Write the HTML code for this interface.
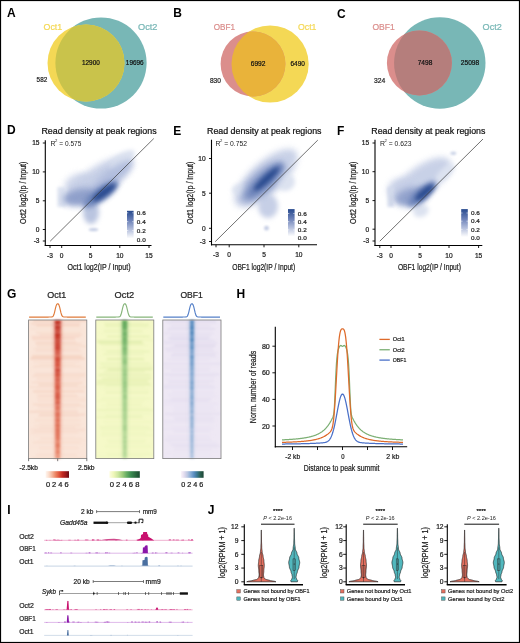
<!DOCTYPE html>
<html><head><meta charset="utf-8"><style>
html,body{margin:0;padding:0;background:#fff;}
svg{display:block;font-family:"Liberation Sans", sans-serif;will-change:transform;}
</style></head><body>
<svg width="520" height="643" viewBox="0 0 520 643">
<rect x="0" y="0" width="520" height="643" fill="#fff"/>
<text x="7.00" y="17.10" font-size="12" text-anchor="start" fill="#000" font-weight="bold">A</text>
<text x="173.20" y="17.30" font-size="12" text-anchor="start" fill="#000" font-weight="bold">B</text>
<text x="337.00" y="17.50" font-size="12" text-anchor="start" fill="#000" font-weight="bold">C</text>
<text x="7.00" y="134.30" font-size="12" text-anchor="start" fill="#000" font-weight="bold">D</text>
<text x="173.20" y="134.60" font-size="12" text-anchor="start" fill="#000" font-weight="bold">E</text>
<text x="337.00" y="134.60" font-size="12" text-anchor="start" fill="#000" font-weight="bold">F</text>
<text x="7.00" y="298.10" font-size="12" text-anchor="start" fill="#000" font-weight="bold">G</text>
<text x="236.50" y="298.30" font-size="12" text-anchor="start" fill="#000" font-weight="bold">H</text>
<text x="7.20" y="513.80" font-size="12" text-anchor="start" fill="#000" font-weight="bold">I</text>
<text x="207.80" y="513.80" font-size="12" text-anchor="start" fill="#000" font-weight="bold">J</text>
<clipPath id="clip10"><circle cx="101" cy="63" r="45.6"/></clipPath>
<circle cx="101" cy="63" r="45.6" fill="#78B7B6"/>
<circle cx="86" cy="63" r="38.5" fill="#F4D855"/>
<circle cx="86" cy="63" r="38.5" fill="#C9C34B" clip-path="url(#clip10)"/>
<text x="43.50" y="29.80" font-size="9.72" text-anchor="start" fill="#F4D855" stroke="#F4D855" stroke-width="0.22" textLength="18.70" lengthAdjust="spacingAndGlyphs">Oct1</text>
<text x="138.00" y="29.80" font-size="9.72" text-anchor="start" fill="#78B7B6" stroke="#78B7B6" stroke-width="0.22" textLength="19.50" lengthAdjust="spacingAndGlyphs">Oct2</text>
<text x="82.00" y="65.10" font-size="7.04" text-anchor="start" fill="#111" stroke="#111" stroke-width="0.22" textLength="17.80" lengthAdjust="spacingAndGlyphs">12900</text>
<text x="125.80" y="65.10" font-size="7.04" text-anchor="start" fill="#111" stroke="#111" stroke-width="0.22" textLength="17.90" lengthAdjust="spacingAndGlyphs">19696</text>
<text x="36.60" y="82.40" font-size="7.04" text-anchor="start" fill="#222" stroke="#222" stroke-width="0.22" textLength="10.60" lengthAdjust="spacingAndGlyphs">582</text>
<clipPath id="clip19"><circle cx="270.1" cy="64" r="38.6"/></clipPath>
<circle cx="270.1" cy="64" r="38.6" fill="#F4D855"/>
<circle cx="253" cy="64" r="32.4" fill="#DB8E8C"/>
<circle cx="253" cy="64" r="32.4" fill="#E9B33A" clip-path="url(#clip19)"/>
<text x="213.80" y="29.80" font-size="9.72" text-anchor="start" fill="#DB8E8C" stroke="#DB8E8C" stroke-width="0.22" textLength="21.20" lengthAdjust="spacingAndGlyphs">OBF1</text>
<text x="298.00" y="29.80" font-size="9.72" text-anchor="start" fill="#F4D855" stroke="#F4D855" stroke-width="0.22" textLength="18.50" lengthAdjust="spacingAndGlyphs">Oct1</text>
<text x="250.70" y="66.40" font-size="7.32" text-anchor="start" fill="#111" stroke="#111" stroke-width="0.22" textLength="14.80" lengthAdjust="spacingAndGlyphs">6992</text>
<text x="290.50" y="66.40" font-size="7.32" text-anchor="start" fill="#111" stroke="#111" stroke-width="0.22" textLength="14.40" lengthAdjust="spacingAndGlyphs">6490</text>
<text x="209.90" y="83.30" font-size="7.32" text-anchor="start" fill="#222" stroke="#222" stroke-width="0.22" textLength="11.00" lengthAdjust="spacingAndGlyphs">830</text>
<clipPath id="clip28"><circle cx="439.8" cy="63" r="45.7"/></clipPath>
<circle cx="439.8" cy="63" r="45.7" fill="#78B7B6"/>
<circle cx="419.4" cy="63" r="32.5" fill="#DB8E8C"/>
<circle cx="419.4" cy="63" r="32.5" fill="#B57E7C" clip-path="url(#clip28)"/>
<text x="372.40" y="29.80" font-size="9.72" text-anchor="start" fill="#DB8E8C" stroke="#DB8E8C" stroke-width="0.22" textLength="22.30" lengthAdjust="spacingAndGlyphs">OBF1</text>
<text x="482.60" y="29.80" font-size="9.72" text-anchor="start" fill="#78B7B6" stroke="#78B7B6" stroke-width="0.22" textLength="19.30" lengthAdjust="spacingAndGlyphs">Oct2</text>
<text x="417.70" y="65.00" font-size="7.18" text-anchor="start" fill="#111" stroke="#111" stroke-width="0.22" textLength="14.60" lengthAdjust="spacingAndGlyphs">7498</text>
<text x="460.80" y="65.00" font-size="7.18" text-anchor="start" fill="#111" stroke="#111" stroke-width="0.22" textLength="18.40" lengthAdjust="spacingAndGlyphs">25098</text>
<text x="374.00" y="82.70" font-size="7.18" text-anchor="start" fill="#222" stroke="#222" stroke-width="0.22" textLength="11.30" lengthAdjust="spacingAndGlyphs">324</text>
<filter id="bl0_8" x="-50%" y="-50%" width="200%" height="200%"><feGaussianBlur stdDeviation="0.8"/></filter>
<filter id="bl1" x="-50%" y="-50%" width="200%" height="200%"><feGaussianBlur stdDeviation="1"/></filter>
<filter id="bl1_5" x="-50%" y="-50%" width="200%" height="200%"><feGaussianBlur stdDeviation="1.5"/></filter>
<filter id="bl2" x="-50%" y="-50%" width="200%" height="200%"><feGaussianBlur stdDeviation="2"/></filter>
<filter id="bl2_5" x="-50%" y="-50%" width="200%" height="200%"><feGaussianBlur stdDeviation="2.5"/></filter>
<filter id="bl3" x="-50%" y="-50%" width="200%" height="200%"><feGaussianBlur stdDeviation="3"/></filter>
<filter id="bl4" x="-50%" y="-50%" width="200%" height="200%"><feGaussianBlur stdDeviation="4"/></filter>
<linearGradient id="cbar" x1="0" y1="1" x2="0" y2="0"><stop offset="0" stop-color="#FFFFFF"/><stop offset="0.3" stop-color="#BAC4DF"/><stop offset="0.65" stop-color="#6C81B8"/><stop offset="1" stop-color="#274A8E"/></linearGradient>
<ellipse cx="98" cy="180" rx="40" ry="13" transform="rotate(-33 98 180)" fill="#C6CFE6" opacity="0.95" filter="url(#bl3)"/>
<ellipse cx="78" cy="183" rx="14" ry="9" transform="rotate(-20 78 183)" fill="#C6CFE6" opacity="0.8" filter="url(#bl3)"/>
<ellipse cx="122" cy="160" rx="15" ry="6" transform="rotate(-35 122 160)" fill="#DCE2F0" opacity="1" filter="url(#bl2)"/>
<rect x="57.5" y="187" width="8.5" height="20" fill="#DCE2F0" opacity="1" filter="url(#bl1_5)"/>
<ellipse cx="91" cy="212" rx="8" ry="12" transform="rotate(0 91 212)" fill="#BAC5E0" opacity="1" filter="url(#bl2_5)"/>
<ellipse cx="93.5" cy="229.6" rx="4.8" ry="1.7" transform="rotate(0 93.5 229.6)" fill="#C5CDE4" opacity="1" filter="url(#bl1)"/>
<ellipse cx="82" cy="197" rx="19" ry="8.5" transform="rotate(-8 82 197)" fill="#8C9DC9" opacity="0.95" filter="url(#bl3)"/>
<ellipse cx="112" cy="177" rx="26" ry="8" transform="rotate(-38 112 177)" fill="#AAB7DA" opacity="0.75" filter="url(#bl3)"/>
<ellipse cx="101" cy="194" rx="21" ry="7" transform="rotate(-35 101 194)" fill="#6D84BA" opacity="0.9" filter="url(#bl2_5)"/>
<ellipse cx="104" cy="192.5" rx="14" ry="4" transform="rotate(-36 104 192.5)" fill="#2C4C90" opacity="1" filter="url(#bl2)"/>
<line x1="50.20" y1="241.20" x2="153.80" y2="138.50" stroke="#333" stroke-width="0.7"/>
<line x1="45.30" y1="140.20" x2="45.30" y2="246.10" stroke="#000" stroke-width="1.1"/>
<line x1="44.80" y1="245.50" x2="151.50" y2="245.50" stroke="#000" stroke-width="1.1"/>
<line x1="42.80" y1="143.00" x2="45.30" y2="143.00" stroke="#000" stroke-width="0.9"/>
<text x="39.50" y="145.40" font-size="6.6" text-anchor="end" fill="#222" stroke="#222" stroke-width="0.22">15</text>
<line x1="42.80" y1="171.90" x2="45.30" y2="171.90" stroke="#000" stroke-width="0.9"/>
<text x="39.50" y="174.30" font-size="6.6" text-anchor="end" fill="#222" stroke="#222" stroke-width="0.22">10</text>
<line x1="42.80" y1="200.80" x2="45.30" y2="200.80" stroke="#000" stroke-width="0.9"/>
<text x="39.50" y="203.20" font-size="6.6" text-anchor="end" fill="#222" stroke="#222" stroke-width="0.22">5</text>
<line x1="42.80" y1="229.50" x2="45.30" y2="229.50" stroke="#000" stroke-width="0.9"/>
<text x="39.50" y="231.90" font-size="6.6" text-anchor="end" fill="#222" stroke="#222" stroke-width="0.22">0</text>
<line x1="42.80" y1="241.00" x2="45.30" y2="241.00" stroke="#000" stroke-width="0.9"/>
<text x="39.50" y="243.40" font-size="6.6" text-anchor="end" fill="#222" stroke="#222" stroke-width="0.22">-3</text>
<line x1="50.00" y1="245.50" x2="50.00" y2="248.00" stroke="#000" stroke-width="0.9"/>
<text x="50.00" y="257.50" font-size="6.6" text-anchor="middle" fill="#222" stroke="#222" stroke-width="0.22">-3</text>
<line x1="61.70" y1="245.50" x2="61.70" y2="248.00" stroke="#000" stroke-width="0.9"/>
<text x="61.70" y="257.50" font-size="6.6" text-anchor="middle" fill="#222" stroke="#222" stroke-width="0.22">0</text>
<line x1="90.60" y1="245.50" x2="90.60" y2="248.00" stroke="#000" stroke-width="0.9"/>
<text x="90.60" y="257.50" font-size="6.6" text-anchor="middle" fill="#222" stroke="#222" stroke-width="0.22">5</text>
<line x1="119.80" y1="245.50" x2="119.80" y2="248.00" stroke="#000" stroke-width="0.9"/>
<text x="119.80" y="257.50" font-size="6.6" text-anchor="middle" fill="#222" stroke="#222" stroke-width="0.22">10</text>
<line x1="149.00" y1="245.50" x2="149.00" y2="248.00" stroke="#000" stroke-width="0.9"/>
<text x="149.00" y="257.50" font-size="6.6" text-anchor="middle" fill="#222" stroke="#222" stroke-width="0.22">15</text>
<text x="41.40" y="134.40" font-size="8.7" text-anchor="start" fill="#111" stroke="#111" stroke-width="0.22" textLength="115.20" lengthAdjust="spacingAndGlyphs">Read density at peak regions</text>
<text x="99.00" y="269.60" font-size="8.3" text-anchor="middle" fill="#222" stroke="#222" stroke-width="0.22" textLength="63.00" lengthAdjust="spacingAndGlyphs">Oct1 log2(IP / Input)</text>
<text transform="translate(26.20,192.80) rotate(-90)" font-size="8.3" text-anchor="middle" fill="#222" stroke="#222" stroke-width="0.22" textLength="62.4" lengthAdjust="spacingAndGlyphs">Oct2 log2(Ip / Input)</text>
<text x="50.5" y="146.1" font-size="6.9" fill="#222">R</text>
<text x="55.10" y="142.4" font-size="4.2" fill="#222">2</text>
<text x="59.30" y="146.1" font-size="6.6" fill="#222" textLength="22.00" lengthAdjust="spacingAndGlyphs">= 0.575</text>
<rect x="127" y="210.8" width="6.6" height="27.69999999999999" fill="url(#cbar)"/>
<line x1="127.00" y1="212.80" x2="128.30" y2="212.80" stroke="#fff" stroke-width="0.6"/>
<line x1="132.30" y1="212.80" x2="133.60" y2="212.80" stroke="#fff" stroke-width="0.6"/>
<text x="136.80" y="214.95" font-size="6.2" text-anchor="start" fill="#222" stroke="#222" stroke-width="0.22" textLength="8.90" lengthAdjust="spacingAndGlyphs">0.6</text>
<line x1="127.00" y1="221.67" x2="128.30" y2="221.67" stroke="#fff" stroke-width="0.6"/>
<line x1="132.30" y1="221.67" x2="133.60" y2="221.67" stroke="#fff" stroke-width="0.6"/>
<text x="136.80" y="223.82" font-size="6.2" text-anchor="start" fill="#222" stroke="#222" stroke-width="0.22" textLength="8.90" lengthAdjust="spacingAndGlyphs">0.4</text>
<line x1="127.00" y1="230.54" x2="128.30" y2="230.54" stroke="#fff" stroke-width="0.6"/>
<line x1="132.30" y1="230.54" x2="133.60" y2="230.54" stroke="#fff" stroke-width="0.6"/>
<text x="136.80" y="232.69" font-size="6.2" text-anchor="start" fill="#222" stroke="#222" stroke-width="0.22" textLength="8.90" lengthAdjust="spacingAndGlyphs">0.2</text>
<text x="136.80" y="241.56" font-size="6.2" text-anchor="start" fill="#222" stroke="#222" stroke-width="0.22" textLength="8.90" lengthAdjust="spacingAndGlyphs">0.0</text>
<ellipse cx="266" cy="178" rx="40" ry="16" transform="rotate(-42 266 178)" fill="#C6CFE6" opacity="0.95" filter="url(#bl3)"/>
<ellipse cx="240" cy="190" rx="8" ry="6" transform="rotate(0 240 190)" fill="#DCE2F0" opacity="1" filter="url(#bl2)"/>
<ellipse cx="268" cy="206" rx="10" ry="12" transform="rotate(0 268 206)" fill="#C6CFE6" opacity="1" filter="url(#bl2_5)"/>
<ellipse cx="266.5" cy="228.2" rx="2.4" ry="2.4" transform="rotate(0 266.5 228.2)" fill="#C5CDE4" opacity="1" filter="url(#bl1)"/>
<ellipse cx="285" cy="182" rx="10" ry="9" transform="rotate(0 285 182)" fill="#DCE2F0" opacity="1" filter="url(#bl2)"/>
<ellipse cx="263" cy="182" rx="28" ry="11" transform="rotate(-42 263 182)" fill="#8C9DC9" opacity="0.9" filter="url(#bl3)"/>
<ellipse cx="265" cy="180.5" rx="24" ry="6.5" transform="rotate(-43 265 180.5)" fill="#6D84BA" opacity="0.9" filter="url(#bl2_5)"/>
<ellipse cx="266.5" cy="179" rx="17" ry="3.8" transform="rotate(-43 266.5 179)" fill="#2C4C90" opacity="1" filter="url(#bl2)"/>
<line x1="215.20" y1="241.70" x2="317.80" y2="140.10" stroke="#333" stroke-width="0.7"/>
<line x1="211.50" y1="139.70" x2="211.50" y2="245.40" stroke="#000" stroke-width="1.1"/>
<line x1="211.00" y1="244.80" x2="317.00" y2="244.80" stroke="#000" stroke-width="1.1"/>
<line x1="209.00" y1="158.50" x2="211.50" y2="158.50" stroke="#000" stroke-width="0.9"/>
<text x="205.70" y="160.90" font-size="6.6" text-anchor="end" fill="#222" stroke="#222" stroke-width="0.22">10</text>
<line x1="209.00" y1="193.20" x2="211.50" y2="193.20" stroke="#000" stroke-width="0.9"/>
<text x="205.70" y="195.60" font-size="6.6" text-anchor="end" fill="#222" stroke="#222" stroke-width="0.22">5</text>
<line x1="209.00" y1="228.30" x2="211.50" y2="228.30" stroke="#000" stroke-width="0.9"/>
<text x="205.70" y="230.70" font-size="6.6" text-anchor="end" fill="#222" stroke="#222" stroke-width="0.22">0</text>
<line x1="209.00" y1="241.50" x2="211.50" y2="241.50" stroke="#000" stroke-width="0.9"/>
<text x="205.70" y="243.90" font-size="6.6" text-anchor="end" fill="#222" stroke="#222" stroke-width="0.22">-3</text>
<line x1="216.00" y1="244.80" x2="216.00" y2="247.30" stroke="#000" stroke-width="0.9"/>
<text x="216.00" y="256.80" font-size="6.6" text-anchor="middle" fill="#222" stroke="#222" stroke-width="0.22">-3</text>
<line x1="229.20" y1="244.80" x2="229.20" y2="247.30" stroke="#000" stroke-width="0.9"/>
<text x="229.20" y="256.80" font-size="6.6" text-anchor="middle" fill="#222" stroke="#222" stroke-width="0.22">0</text>
<line x1="264.00" y1="244.80" x2="264.00" y2="247.30" stroke="#000" stroke-width="0.9"/>
<text x="264.00" y="256.80" font-size="6.6" text-anchor="middle" fill="#222" stroke="#222" stroke-width="0.22">5</text>
<line x1="298.80" y1="244.80" x2="298.80" y2="247.30" stroke="#000" stroke-width="0.9"/>
<text x="298.80" y="256.80" font-size="6.6" text-anchor="middle" fill="#222" stroke="#222" stroke-width="0.22">10</text>
<text x="207.00" y="134.40" font-size="8.7" text-anchor="start" fill="#111" stroke="#111" stroke-width="0.22" textLength="114.50" lengthAdjust="spacingAndGlyphs">Read density at peak regions</text>
<text x="263.70" y="269.60" font-size="8.3" text-anchor="middle" fill="#222" stroke="#222" stroke-width="0.22" textLength="63.00" lengthAdjust="spacingAndGlyphs">OBF1 log2(IP / Input)</text>
<text transform="translate(192.60,192.80) rotate(-90)" font-size="8.3" text-anchor="middle" fill="#222" stroke="#222" stroke-width="0.22" textLength="62.4" lengthAdjust="spacingAndGlyphs">Oct1 log2(Ip / Input)</text>
<text x="215.4" y="146.1" font-size="6.9" fill="#222">R</text>
<text x="220.00" y="142.4" font-size="4.2" fill="#222">2</text>
<text x="224.20" y="146.1" font-size="6.6" fill="#222" textLength="22.80" lengthAdjust="spacingAndGlyphs">= 0.752</text>
<rect x="288" y="209.1" width="6.6" height="27.30000000000001" fill="url(#cbar)"/>
<line x1="288.00" y1="213.50" x2="289.30" y2="213.50" stroke="#fff" stroke-width="0.6"/>
<line x1="293.30" y1="213.50" x2="294.60" y2="213.50" stroke="#fff" stroke-width="0.6"/>
<text x="297.80" y="215.65" font-size="6.2" text-anchor="start" fill="#222" stroke="#222" stroke-width="0.22" textLength="8.90" lengthAdjust="spacingAndGlyphs">0.6</text>
<line x1="288.00" y1="221.70" x2="289.30" y2="221.70" stroke="#fff" stroke-width="0.6"/>
<line x1="293.30" y1="221.70" x2="294.60" y2="221.70" stroke="#fff" stroke-width="0.6"/>
<text x="297.80" y="223.85" font-size="6.2" text-anchor="start" fill="#222" stroke="#222" stroke-width="0.22" textLength="8.90" lengthAdjust="spacingAndGlyphs">0.4</text>
<line x1="288.00" y1="229.90" x2="289.30" y2="229.90" stroke="#fff" stroke-width="0.6"/>
<line x1="293.30" y1="229.90" x2="294.60" y2="229.90" stroke="#fff" stroke-width="0.6"/>
<text x="297.80" y="232.05" font-size="6.2" text-anchor="start" fill="#222" stroke="#222" stroke-width="0.22" textLength="8.90" lengthAdjust="spacingAndGlyphs">0.2</text>
<text x="297.80" y="240.25" font-size="6.2" text-anchor="start" fill="#222" stroke="#222" stroke-width="0.22" textLength="8.90" lengthAdjust="spacingAndGlyphs">0.0</text>
<ellipse cx="422" cy="180" rx="34" ry="14" transform="rotate(-35 422 180)" fill="#C6CFE6" opacity="0.95" filter="url(#bl3)"/>
<ellipse cx="402" cy="190" rx="14" ry="12" transform="rotate(0 402 190)" fill="#C6CFE6" opacity="0.9" filter="url(#bl3)"/>
<rect x="387.5" y="187" width="6.5" height="20" fill="#D3DAEC" opacity="1" filter="url(#bl1_5)"/>
<ellipse cx="421" cy="211" rx="8" ry="6" transform="rotate(-20 421 211)" fill="#DCE2F0" opacity="1" filter="url(#bl2)"/>
<ellipse cx="453.3" cy="153.2" rx="3" ry="1.8" transform="rotate(0 453.3 153.2)" fill="#CDD5E8" opacity="1" filter="url(#bl1)"/>
<ellipse cx="445" cy="173" rx="12" ry="5" transform="rotate(-42 445 173)" fill="#DCE2F0" opacity="1" filter="url(#bl2)"/>
<ellipse cx="411" cy="197" rx="16" ry="9" transform="rotate(-12 411 197)" fill="#8C9DC9" opacity="0.9" filter="url(#bl3)"/>
<ellipse cx="422" cy="194" rx="18" ry="6.5" transform="rotate(-40 422 194)" fill="#6D84BA" opacity="0.9" filter="url(#bl2_5)"/>
<ellipse cx="424.5" cy="192.5" rx="12" ry="3.8" transform="rotate(-40 424.5 192.5)" fill="#2C4C90" opacity="1" filter="url(#bl2)"/>
<line x1="379.80" y1="241.20" x2="483.00" y2="139.00" stroke="#333" stroke-width="0.7"/>
<line x1="375.00" y1="139.70" x2="375.00" y2="246.10" stroke="#000" stroke-width="1.1"/>
<line x1="374.50" y1="245.50" x2="482.30" y2="245.50" stroke="#000" stroke-width="1.1"/>
<line x1="372.50" y1="143.00" x2="375.00" y2="143.00" stroke="#000" stroke-width="0.9"/>
<text x="369.20" y="145.40" font-size="6.6" text-anchor="end" fill="#222" stroke="#222" stroke-width="0.22">15</text>
<line x1="372.50" y1="171.70" x2="375.00" y2="171.70" stroke="#000" stroke-width="0.9"/>
<text x="369.20" y="174.10" font-size="6.6" text-anchor="end" fill="#222" stroke="#222" stroke-width="0.22">10</text>
<line x1="372.50" y1="200.60" x2="375.00" y2="200.60" stroke="#000" stroke-width="0.9"/>
<text x="369.20" y="203.00" font-size="6.6" text-anchor="end" fill="#222" stroke="#222" stroke-width="0.22">5</text>
<line x1="372.50" y1="229.20" x2="375.00" y2="229.20" stroke="#000" stroke-width="0.9"/>
<text x="369.20" y="231.60" font-size="6.6" text-anchor="end" fill="#222" stroke="#222" stroke-width="0.22">0</text>
<line x1="372.50" y1="241.00" x2="375.00" y2="241.00" stroke="#000" stroke-width="0.9"/>
<text x="369.20" y="243.40" font-size="6.6" text-anchor="end" fill="#222" stroke="#222" stroke-width="0.22">-3</text>
<line x1="379.80" y1="245.50" x2="379.80" y2="248.00" stroke="#000" stroke-width="0.9"/>
<text x="379.80" y="257.50" font-size="6.6" text-anchor="middle" fill="#222" stroke="#222" stroke-width="0.22">-3</text>
<line x1="391.00" y1="245.50" x2="391.00" y2="248.00" stroke="#000" stroke-width="0.9"/>
<text x="391.00" y="257.50" font-size="6.6" text-anchor="middle" fill="#222" stroke="#222" stroke-width="0.22">0</text>
<line x1="420.00" y1="245.50" x2="420.00" y2="248.00" stroke="#000" stroke-width="0.9"/>
<text x="420.00" y="257.50" font-size="6.6" text-anchor="middle" fill="#222" stroke="#222" stroke-width="0.22">5</text>
<line x1="449.00" y1="245.50" x2="449.00" y2="248.00" stroke="#000" stroke-width="0.9"/>
<text x="449.00" y="257.50" font-size="6.6" text-anchor="middle" fill="#222" stroke="#222" stroke-width="0.22">10</text>
<line x1="478.60" y1="245.50" x2="478.60" y2="248.00" stroke="#000" stroke-width="0.9"/>
<text x="478.60" y="257.50" font-size="6.6" text-anchor="middle" fill="#222" stroke="#222" stroke-width="0.22">15</text>
<text x="371.30" y="134.40" font-size="8.7" text-anchor="start" fill="#111" stroke="#111" stroke-width="0.22" textLength="114.10" lengthAdjust="spacingAndGlyphs">Read density at peak regions</text>
<text x="429.40" y="269.60" font-size="8.3" text-anchor="middle" fill="#222" stroke="#222" stroke-width="0.22" textLength="63.00" lengthAdjust="spacingAndGlyphs">OBF1 log2(IP / Input)</text>
<text transform="translate(355.60,192.80) rotate(-90)" font-size="8.3" text-anchor="middle" fill="#222" stroke="#222" stroke-width="0.22" textLength="62.4" lengthAdjust="spacingAndGlyphs">Oct2 log2(Ip / Input)</text>
<text x="380" y="146.1" font-size="6.9" fill="#222">R</text>
<text x="384.60" y="142.4" font-size="4.2" fill="#222">2</text>
<text x="388.80" y="146.1" font-size="6.6" fill="#222" textLength="22.70" lengthAdjust="spacingAndGlyphs">= 0.623</text>
<rect x="461.2" y="209.1" width="6.6" height="27.900000000000006" fill="url(#cbar)"/>
<line x1="461.20" y1="213.00" x2="462.50" y2="213.00" stroke="#fff" stroke-width="0.6"/>
<line x1="466.50" y1="213.00" x2="467.80" y2="213.00" stroke="#fff" stroke-width="0.6"/>
<text x="471.00" y="215.15" font-size="6.2" text-anchor="start" fill="#222" stroke="#222" stroke-width="0.22" textLength="8.90" lengthAdjust="spacingAndGlyphs">0.6</text>
<line x1="461.20" y1="221.20" x2="462.50" y2="221.20" stroke="#fff" stroke-width="0.6"/>
<line x1="466.50" y1="221.20" x2="467.80" y2="221.20" stroke="#fff" stroke-width="0.6"/>
<text x="471.00" y="223.35" font-size="6.2" text-anchor="start" fill="#222" stroke="#222" stroke-width="0.22" textLength="8.90" lengthAdjust="spacingAndGlyphs">0.4</text>
<line x1="461.20" y1="229.40" x2="462.50" y2="229.40" stroke="#fff" stroke-width="0.6"/>
<line x1="466.50" y1="229.40" x2="467.80" y2="229.40" stroke="#fff" stroke-width="0.6"/>
<text x="471.00" y="231.55" font-size="6.2" text-anchor="start" fill="#222" stroke="#222" stroke-width="0.22" textLength="8.90" lengthAdjust="spacingAndGlyphs">0.2</text>
<text x="471.00" y="239.75" font-size="6.2" text-anchor="start" fill="#222" stroke="#222" stroke-width="0.22" textLength="8.90" lengthAdjust="spacingAndGlyphs">0.0</text>
<linearGradient id="h1c" x1="0" y1="0" x2="0" y2="1"><stop offset="0" stop-color="#C43426"/><stop offset="0.3" stop-color="#D85440"/><stop offset="1" stop-color="#EA8A6E"/></linearGradient>
<rect x="28.6" y="320.0" width="58.199999999999996" height="138.60000000000002" fill="#FAE6DA"/>
<clipPath id="h1clip"><rect x="28.6" y="320.0" width="58.199999999999996" height="138.60000000000002"/></clipPath>
<g clip-path="url(#h1clip)"><g filter="url(#bl0_8)">
<rect x="33.3" y="320.0" width="52.9" height="1.2" fill="#EFB8A2" opacity="0.68"/>
<rect x="29.3" y="322.4" width="51.4" height="0.8" fill="#EFB8A2" opacity="0.26"/>
<rect x="31.5" y="323.5" width="48.7" height="1.5" fill="#EFB8A2" opacity="0.29"/>
<rect x="36.2" y="325.4" width="43.6" height="0.8" fill="#EFB8A2" opacity="0.66"/>
<rect x="31.3" y="326.6" width="48.9" height="1.5" fill="#EFB8A2" opacity="0.03"/>
<rect x="30.0" y="328.5" width="53.1" height="1.5" fill="#EFB8A2" opacity="0.10"/>
<rect x="35.5" y="331.2" width="49.1" height="1.0" fill="#EFB8A2" opacity="0.07"/>
<rect x="36.0" y="332.6" width="44.8" height="0.8" fill="#EFB8A2" opacity="0.38"/>
<rect x="39.7" y="334.3" width="42.8" height="1.2" fill="#EFB8A2" opacity="0.31"/>
<rect x="31.5" y="336.1" width="48.4" height="1.0" fill="#EFB8A2" opacity="0.46"/>
<rect x="32.1" y="338.0" width="43.0" height="1.2" fill="#EFB8A2" opacity="0.48"/>
<rect x="32.7" y="339.6" width="42.9" height="1.5" fill="#EFB8A2" opacity="0.11"/>
<rect x="35.5" y="341.9" width="40.8" height="0.8" fill="#EFB8A2" opacity="0.49"/>
<rect x="35.6" y="343.3" width="45.8" height="1.2" fill="#EFB8A2" opacity="0.38"/>
<rect x="36.6" y="345.7" width="49.5" height="1.2" fill="#EFB8A2" opacity="0.30"/>
<rect x="33.2" y="348.0" width="45.5" height="1.5" fill="#EFB8A2" opacity="0.18"/>
<rect x="35.9" y="349.8" width="44.9" height="1.5" fill="#EFB8A2" opacity="0.22"/>
<rect x="31.6" y="351.9" width="50.5" height="1.2" fill="#EFB8A2" opacity="0.08"/>
<rect x="33.4" y="354.3" width="50.0" height="0.8" fill="#EFB8A2" opacity="0.10"/>
<rect x="31.9" y="355.6" width="49.9" height="1.5" fill="#EFB8A2" opacity="0.52"/>
<rect x="30.4" y="357.8" width="54.3" height="1.5" fill="#EFB8A2" opacity="0.57"/>
<rect x="38.6" y="359.8" width="46.0" height="1.0" fill="#EFB8A2" opacity="0.01"/>
<rect x="33.0" y="361.4" width="47.0" height="1.0" fill="#EFB8A2" opacity="0.24"/>
<rect x="39.1" y="363.8" width="36.3" height="0.8" fill="#EFB8A2" opacity="0.26"/>
<rect x="33.3" y="365.6" width="47.7" height="1.5" fill="#EFB8A2" opacity="0.23"/>
<rect x="31.1" y="367.9" width="53.7" height="1.0" fill="#EFB8A2" opacity="0.04"/>
<rect x="35.4" y="369.5" width="45.0" height="0.8" fill="#EFB8A2" opacity="0.06"/>
<rect x="31.1" y="371.7" width="51.2" height="0.8" fill="#EFB8A2" opacity="0.04"/>
<rect x="34.3" y="373.5" width="51.1" height="1.2" fill="#EFB8A2" opacity="0.33"/>
<rect x="32.3" y="375.5" width="52.7" height="1.5" fill="#EFB8A2" opacity="0.26"/>
<rect x="36.9" y="378.1" width="43.7" height="1.2" fill="#EFB8A2" opacity="0.25"/>
<rect x="35.1" y="379.9" width="51.4" height="1.2" fill="#EFB8A2" opacity="0.08"/>
<rect x="31.7" y="382.0" width="50.7" height="0.8" fill="#EFB8A2" opacity="0.36"/>
<rect x="37.9" y="383.2" width="44.9" height="1.0" fill="#EFB8A2" opacity="0.27"/>
<rect x="38.4" y="384.8" width="39.5" height="1.0" fill="#EFB8A2" opacity="0.41"/>
<rect x="28.9" y="386.3" width="57.5" height="1.5" fill="#EFB8A2" opacity="0.18"/>
<rect x="35.9" y="388.4" width="46.8" height="1.2" fill="#EFB8A2" opacity="0.10"/>
<rect x="33.0" y="390.8" width="51.2" height="1.2" fill="#EFB8A2" opacity="0.47"/>
<rect x="34.4" y="392.6" width="40.6" height="1.0" fill="#EFB8A2" opacity="0.16"/>
<rect x="36.4" y="394.6" width="40.8" height="0.8" fill="#EFB8A2" opacity="0.23"/>
<rect x="38.0" y="395.7" width="39.8" height="0.8" fill="#EFB8A2" opacity="0.43"/>
<rect x="36.2" y="397.4" width="49.5" height="1.0" fill="#EFB8A2" opacity="0.20"/>
<rect x="37.5" y="399.7" width="48.3" height="1.5" fill="#EFB8A2" opacity="0.21"/>
<rect x="35.7" y="401.7" width="45.5" height="1.0" fill="#EFB8A2" opacity="0.01"/>
<rect x="32.8" y="403.7" width="47.4" height="1.5" fill="#EFB8A2" opacity="0.30"/>
<rect x="37.3" y="405.7" width="48.3" height="0.8" fill="#EFB8A2" opacity="0.35"/>
<rect x="39.1" y="407.6" width="37.8" height="1.0" fill="#EFB8A2" opacity="0.19"/>
<rect x="34.6" y="409.1" width="43.0" height="1.2" fill="#EFB8A2" opacity="0.09"/>
<rect x="29.3" y="411.0" width="48.6" height="1.5" fill="#EFB8A2" opacity="0.36"/>
<rect x="39.1" y="413.8" width="46.1" height="1.5" fill="#EFB8A2" opacity="0.35"/>
<rect x="37.9" y="415.7" width="41.6" height="0.8" fill="#EFB8A2" opacity="0.36"/>
<rect x="34.3" y="417.7" width="43.8" height="1.0" fill="#EFB8A2" opacity="0.07"/>
<rect x="35.0" y="419.6" width="46.0" height="1.2" fill="#EFB8A2" opacity="0.27"/>
<rect x="31.9" y="421.9" width="45.6" height="0.8" fill="#EFB8A2" opacity="0.10"/>
<rect x="39.5" y="423.6" width="41.9" height="0.8" fill="#EFB8A2" opacity="0.29"/>
<rect x="34.0" y="425.4" width="46.4" height="1.0" fill="#EFB8A2" opacity="0.26"/>
<rect x="39.1" y="427.2" width="36.4" height="1.0" fill="#EFB8A2" opacity="0.26"/>
<rect x="30.2" y="428.8" width="55.1" height="1.0" fill="#EFB8A2" opacity="0.31"/>
<rect x="33.7" y="430.6" width="50.5" height="0.8" fill="#EFB8A2" opacity="0.24"/>
<rect x="30.5" y="432.0" width="47.8" height="0.8" fill="#EFB8A2" opacity="0.32"/>
<rect x="30.2" y="433.8" width="50.9" height="1.0" fill="#EFB8A2" opacity="0.09"/>
<rect x="34.4" y="436.0" width="40.5" height="0.8" fill="#EFB8A2" opacity="0.14"/>
<rect x="40.5" y="438.0" width="41.4" height="1.0" fill="#EFB8A2" opacity="0.24"/>
<rect x="37.3" y="439.7" width="49.3" height="1.2" fill="#EFB8A2" opacity="0.11"/>
<rect x="33.2" y="441.8" width="47.4" height="1.5" fill="#EFB8A2" opacity="0.23"/>
<rect x="39.6" y="444.0" width="44.4" height="0.8" fill="#EFB8A2" opacity="0.04"/>
<rect x="29.1" y="446.0" width="48.4" height="0.8" fill="#EFB8A2" opacity="0.08"/>
<rect x="38.8" y="447.4" width="39.9" height="1.0" fill="#EFB8A2" opacity="0.25"/>
<rect x="39.6" y="449.8" width="40.3" height="1.5" fill="#EFB8A2" opacity="0.05"/>
<rect x="38.2" y="452.3" width="46.4" height="0.8" fill="#EFB8A2" opacity="0.08"/>
<rect x="36.2" y="454.4" width="41.0" height="1.2" fill="#EFB8A2" opacity="0.27"/>
<rect x="39.0" y="456.0" width="42.4" height="1.0" fill="#EFB8A2" opacity="0.02"/>
<rect x="31.8" y="457.7" width="53.4" height="1.5" fill="#EFB8A2" opacity="0.26"/>
</g></g>
<polygon points="52.60,320.0 62.80,320.0 61.90,458.6 53.50,458.6" fill="url(#h1c)" opacity="0.22" filter="url(#bl1_5)"/>
<clipPath id="h1cc"><polygon points="54.60,320.0 60.80,320.0 59.90,458.6 55.50,458.6"/></clipPath>
<g filter="url(#bl0_8)"><g clip-path="url(#h1cc)"><rect x="54.6" y="320.0" width="6.2" height="138.60000000000002" fill="url(#h1c)"/>
<rect x="54.60" y="320.0" width="6.2" height="0.8" fill="#FAE6DA" opacity="0.34"/>
<rect x="54.60" y="321.4" width="6.2" height="0.8" fill="#A8201A" opacity="0.24"/>
<rect x="54.60" y="322.9" width="6.2" height="0.8" fill="#A8201A" opacity="0.32"/>
<rect x="54.60" y="324.3" width="6.2" height="1.0" fill="#FAE6DA" opacity="0.35"/>
<rect x="54.60" y="325.6" width="6.2" height="0.6" fill="#FAE6DA" opacity="0.22"/>
<rect x="54.60" y="326.8" width="6.2" height="1.2" fill="#A8201A" opacity="0.29"/>
<rect x="54.60" y="329.1" width="6.2" height="1.2" fill="#FAE6DA" opacity="0.21"/>
<rect x="54.60" y="331.8" width="6.2" height="1.0" fill="#FAE6DA" opacity="0.34"/>
<rect x="54.60" y="333.5" width="6.2" height="0.8" fill="#A8201A" opacity="0.24"/>
<rect x="54.60" y="334.7" width="6.2" height="0.8" fill="#A8201A" opacity="0.35"/>
<rect x="54.60" y="336.9" width="6.2" height="1.2" fill="#A8201A" opacity="0.13"/>
<rect x="54.60" y="339.5" width="6.2" height="1.0" fill="#FAE6DA" opacity="0.26"/>
<rect x="54.60" y="340.9" width="6.2" height="0.8" fill="#A8201A" opacity="0.26"/>
<rect x="54.60" y="342.3" width="6.2" height="1.0" fill="#FAE6DA" opacity="0.21"/>
<rect x="54.60" y="343.9" width="6.2" height="1.0" fill="#A8201A" opacity="0.16"/>
<rect x="54.60" y="345.7" width="6.2" height="0.6" fill="#FAE6DA" opacity="0.20"/>
<rect x="54.60" y="346.8" width="6.2" height="0.6" fill="#A8201A" opacity="0.39"/>
<rect x="54.60" y="347.9" width="6.2" height="0.6" fill="#A8201A" opacity="0.20"/>
<rect x="54.60" y="349.6" width="6.2" height="0.6" fill="#FAE6DA" opacity="0.21"/>
<rect x="54.60" y="351.5" width="6.2" height="1.2" fill="#FAE6DA" opacity="0.27"/>
<rect x="54.60" y="353.7" width="6.2" height="1.0" fill="#FAE6DA" opacity="0.24"/>
<rect x="54.60" y="355.0" width="6.2" height="1.2" fill="#FAE6DA" opacity="0.29"/>
<rect x="54.60" y="356.7" width="6.2" height="0.6" fill="#FAE6DA" opacity="0.23"/>
<rect x="54.60" y="358.8" width="6.2" height="0.8" fill="#A8201A" opacity="0.10"/>
<rect x="54.60" y="360.7" width="6.2" height="0.6" fill="#A8201A" opacity="0.23"/>
<rect x="54.60" y="361.7" width="6.2" height="0.6" fill="#FAE6DA" opacity="0.25"/>
<rect x="54.60" y="363.2" width="6.2" height="0.6" fill="#FAE6DA" opacity="0.07"/>
<rect x="54.60" y="365.3" width="6.2" height="0.6" fill="#FAE6DA" opacity="0.07"/>
<rect x="54.60" y="367.2" width="6.2" height="1.0" fill="#FAE6DA" opacity="0.30"/>
<rect x="54.60" y="368.8" width="6.2" height="0.8" fill="#A8201A" opacity="0.27"/>
<rect x="54.60" y="370.5" width="6.2" height="1.2" fill="#A8201A" opacity="0.34"/>
<rect x="54.60" y="372.3" width="6.2" height="0.6" fill="#FAE6DA" opacity="0.24"/>
<rect x="54.60" y="373.3" width="6.2" height="0.8" fill="#A8201A" opacity="0.26"/>
<rect x="54.60" y="375.3" width="6.2" height="0.8" fill="#A8201A" opacity="0.09"/>
<rect x="54.60" y="376.8" width="6.2" height="0.6" fill="#FAE6DA" opacity="0.25"/>
<rect x="54.60" y="378.1" width="6.2" height="1.0" fill="#FAE6DA" opacity="0.19"/>
<rect x="54.60" y="379.5" width="6.2" height="0.8" fill="#A8201A" opacity="0.09"/>
<rect x="54.60" y="381.2" width="6.2" height="1.0" fill="#FAE6DA" opacity="0.30"/>
<rect x="54.60" y="383.8" width="6.2" height="1.2" fill="#FAE6DA" opacity="0.17"/>
<rect x="54.60" y="386.5" width="6.2" height="0.8" fill="#A8201A" opacity="0.08"/>
<rect x="54.60" y="388.6" width="6.2" height="1.0" fill="#FAE6DA" opacity="0.09"/>
<rect x="54.60" y="390.9" width="6.2" height="1.0" fill="#FAE6DA" opacity="0.26"/>
<rect x="54.60" y="392.5" width="6.2" height="1.2" fill="#A8201A" opacity="0.09"/>
<rect x="54.60" y="395.3" width="6.2" height="1.2" fill="#A8201A" opacity="0.22"/>
<rect x="54.60" y="397.3" width="6.2" height="1.2" fill="#A8201A" opacity="0.24"/>
<rect x="54.60" y="398.8" width="6.2" height="1.0" fill="#FAE6DA" opacity="0.09"/>
<rect x="54.60" y="401.3" width="6.2" height="0.6" fill="#FAE6DA" opacity="0.14"/>
<rect x="54.60" y="402.7" width="6.2" height="1.2" fill="#A8201A" opacity="0.23"/>
<rect x="54.60" y="404.3" width="6.2" height="1.2" fill="#FAE6DA" opacity="0.31"/>
<rect x="54.60" y="406.2" width="6.2" height="0.6" fill="#FAE6DA" opacity="0.14"/>
<rect x="54.60" y="408.3" width="6.2" height="0.8" fill="#FAE6DA" opacity="0.18"/>
<rect x="54.60" y="409.8" width="6.2" height="1.0" fill="#FAE6DA" opacity="0.18"/>
<rect x="54.60" y="411.1" width="6.2" height="1.2" fill="#FAE6DA" opacity="0.33"/>
<rect x="54.60" y="413.3" width="6.2" height="0.6" fill="#A8201A" opacity="0.17"/>
<rect x="54.60" y="414.8" width="6.2" height="0.8" fill="#FAE6DA" opacity="0.14"/>
<rect x="54.60" y="416.0" width="6.2" height="0.8" fill="#A8201A" opacity="0.11"/>
<rect x="54.60" y="417.5" width="6.2" height="1.0" fill="#FAE6DA" opacity="0.34"/>
<rect x="54.60" y="419.1" width="6.2" height="0.8" fill="#A8201A" opacity="0.12"/>
<rect x="54.60" y="420.7" width="6.2" height="0.8" fill="#FAE6DA" opacity="0.07"/>
<rect x="54.60" y="422.5" width="6.2" height="1.2" fill="#FAE6DA" opacity="0.19"/>
<rect x="54.60" y="424.4" width="6.2" height="1.2" fill="#A8201A" opacity="0.11"/>
<rect x="54.60" y="426.2" width="6.2" height="0.8" fill="#A8201A" opacity="0.05"/>
<rect x="54.60" y="427.6" width="6.2" height="1.0" fill="#FAE6DA" opacity="0.11"/>
<rect x="54.60" y="428.9" width="6.2" height="1.2" fill="#A8201A" opacity="0.13"/>
<rect x="54.60" y="430.7" width="6.2" height="1.0" fill="#A8201A" opacity="0.04"/>
<rect x="54.60" y="432.4" width="6.2" height="1.0" fill="#A8201A" opacity="0.09"/>
<rect x="54.60" y="434.5" width="6.2" height="0.8" fill="#A8201A" opacity="0.13"/>
<rect x="54.60" y="436.1" width="6.2" height="1.2" fill="#A8201A" opacity="0.06"/>
<rect x="54.60" y="438.7" width="6.2" height="0.6" fill="#A8201A" opacity="0.07"/>
<rect x="54.60" y="440.5" width="6.2" height="1.2" fill="#FAE6DA" opacity="0.20"/>
<rect x="54.60" y="442.1" width="6.2" height="1.2" fill="#FAE6DA" opacity="0.12"/>
<rect x="54.60" y="443.8" width="6.2" height="0.8" fill="#A8201A" opacity="0.10"/>
<rect x="54.60" y="445.0" width="6.2" height="1.2" fill="#A8201A" opacity="0.08"/>
<rect x="54.60" y="446.5" width="6.2" height="0.8" fill="#A8201A" opacity="0.09"/>
<rect x="54.60" y="448.5" width="6.2" height="1.0" fill="#FAE6DA" opacity="0.24"/>
<rect x="54.60" y="450.5" width="6.2" height="1.2" fill="#FAE6DA" opacity="0.08"/>
<rect x="54.60" y="452.0" width="6.2" height="0.8" fill="#A8201A" opacity="0.03"/>
<rect x="54.60" y="453.9" width="6.2" height="0.6" fill="#FAE6DA" opacity="0.35"/>
<rect x="54.60" y="455.2" width="6.2" height="1.0" fill="#FAE6DA" opacity="0.32"/>
<rect x="54.60" y="457.1" width="6.2" height="0.8" fill="#FAE6DA" opacity="0.06"/>
</g>
</g>
<rect x="28.6" y="320.0" width="58.199999999999996" height="138.60000000000002" fill="none" stroke="#7a7a7a" stroke-width="0.8"/>
<polyline points="29.10,317.19 29.81,317.19 30.52,317.19 31.23,317.19 31.94,317.19 32.64,317.19 33.35,317.18 34.06,317.18 34.77,317.18 35.48,317.18 36.19,317.18 36.90,317.17 37.61,317.17 38.31,317.17 39.02,317.16 39.73,317.16 40.44,317.15 41.15,317.15 41.86,317.14 42.57,317.14 43.28,317.13 43.98,317.12 44.69,317.12 45.40,317.11 46.11,317.10 46.82,317.09 47.53,317.07 48.24,317.06 48.95,317.05 49.65,317.03 50.36,317.01 51.07,316.99 51.78,316.93 52.49,316.72 53.20,316.09 53.91,314.60 54.61,312.06 55.32,308.92 56.03,306.11 56.74,304.40 57.45,303.83 58.16,303.91 58.87,304.77 59.58,306.85 60.28,309.86 60.99,312.90 61.70,315.15 62.41,316.34 63.12,316.81 63.83,316.95 64.54,317.00 65.25,317.02 65.95,317.04 66.66,317.05 67.37,317.07 68.08,317.08 68.79,317.09 69.50,317.10 70.21,317.11 70.92,317.12 71.62,317.13 72.33,317.13 73.04,317.14 73.75,317.15 74.46,317.15 75.17,317.16 75.88,317.16 76.59,317.16 77.30,317.17 78.00,317.17 78.71,317.17 79.42,317.18 80.13,317.18 80.84,317.18 81.55,317.18 82.26,317.18 82.97,317.19 83.67,317.19 84.38,317.19 85.09,317.19 85.80,317.19" fill="none" stroke="#E07B3A" stroke-width="1.15"/>
<text x="47.30" y="298.20" font-size="9.01" text-anchor="start" fill="#222" stroke="#222" stroke-width="0.22" textLength="18.90" lengthAdjust="spacingAndGlyphs">Oct1</text>
<linearGradient id="h1b" x1="0" y1="0" x2="1" y2="0"><stop offset="0.000" stop-color="#FFF6F0"/><stop offset="0.143" stop-color="#FBDCCB"/><stop offset="0.286" stop-color="#F4B398"/><stop offset="0.429" stop-color="#EC8462"/><stop offset="0.571" stop-color="#E0583E"/><stop offset="0.714" stop-color="#C42A22"/><stop offset="0.857" stop-color="#A01A1C"/><stop offset="1.000" stop-color="#6A0C14"/></linearGradient>
<rect x="45.6" y="471.2" width="23.4" height="6.6" fill="url(#h1b)"/>
<text x="45.90" y="486.50" font-size="6.48" text-anchor="start" fill="#222" stroke="#222" stroke-width="0.22" textLength="22.80" lengthAdjust="spacingAndGlyphs">0 2 4 6</text>
<linearGradient id="h2c" x1="0" y1="0" x2="0" y2="1"><stop offset="0" stop-color="#64AA5E"/><stop offset="0.3" stop-color="#98CA84"/><stop offset="1" stop-color="#B8DA9A"/></linearGradient>
<rect x="95.8" y="320.0" width="58.000000000000014" height="138.60000000000002" fill="#F5F9C8"/>
<clipPath id="h2clip"><rect x="95.8" y="320.0" width="58.000000000000014" height="138.60000000000002"/></clipPath>
<g clip-path="url(#h2clip)"><g filter="url(#bl0_8)">
<rect x="98.1" y="320.0" width="45.1" height="1.2" fill="#D2E49A" opacity="0.04"/>
<rect x="103.8" y="322.2" width="38.9" height="0.8" fill="#D2E49A" opacity="0.18"/>
<rect x="104.4" y="323.6" width="45.0" height="0.8" fill="#D2E49A" opacity="0.49"/>
<rect x="104.7" y="325.1" width="43.1" height="0.8" fill="#D2E49A" opacity="0.56"/>
<rect x="105.6" y="326.4" width="45.4" height="1.0" fill="#D2E49A" opacity="0.22"/>
<rect x="103.3" y="328.0" width="43.2" height="1.2" fill="#D2E49A" opacity="0.08"/>
<rect x="103.8" y="330.5" width="38.6" height="1.5" fill="#D2E49A" opacity="0.28"/>
<rect x="96.1" y="332.4" width="50.6" height="1.5" fill="#D2E49A" opacity="0.04"/>
<rect x="101.2" y="334.7" width="44.1" height="0.8" fill="#D2E49A" opacity="0.12"/>
<rect x="107.0" y="336.1" width="42.9" height="0.8" fill="#D2E49A" opacity="0.66"/>
<rect x="103.8" y="337.4" width="45.5" height="1.5" fill="#D2E49A" opacity="0.02"/>
<rect x="97.1" y="339.6" width="55.8" height="1.2" fill="#D2E49A" opacity="0.29"/>
<rect x="97.3" y="341.2" width="44.9" height="1.5" fill="#D2E49A" opacity="0.62"/>
<rect x="99.5" y="343.2" width="44.6" height="1.2" fill="#D2E49A" opacity="0.49"/>
<rect x="102.3" y="344.8" width="46.1" height="1.5" fill="#D2E49A" opacity="0.12"/>
<rect x="100.7" y="347.0" width="43.3" height="1.5" fill="#D2E49A" opacity="0.02"/>
<rect x="101.4" y="349.6" width="42.8" height="0.8" fill="#D2E49A" opacity="0.23"/>
<rect x="106.6" y="350.8" width="43.1" height="1.0" fill="#D2E49A" opacity="0.46"/>
<rect x="104.4" y="352.4" width="45.6" height="0.8" fill="#D2E49A" opacity="0.16"/>
<rect x="102.9" y="353.8" width="41.2" height="0.8" fill="#D2E49A" opacity="0.44"/>
<rect x="98.6" y="356.0" width="49.5" height="0.8" fill="#D2E49A" opacity="0.01"/>
<rect x="106.8" y="358.1" width="37.3" height="1.5" fill="#D2E49A" opacity="0.47"/>
<rect x="105.4" y="360.1" width="39.5" height="1.5" fill="#D2E49A" opacity="0.11"/>
<rect x="99.7" y="362.8" width="50.2" height="1.0" fill="#D2E49A" opacity="0.35"/>
<rect x="100.5" y="364.5" width="51.4" height="0.8" fill="#D2E49A" opacity="0.29"/>
<rect x="102.3" y="366.0" width="49.5" height="0.8" fill="#D2E49A" opacity="0.27"/>
<rect x="99.0" y="367.6" width="53.8" height="0.8" fill="#D2E49A" opacity="0.56"/>
<rect x="107.5" y="368.8" width="44.3" height="1.5" fill="#D2E49A" opacity="0.55"/>
<rect x="103.9" y="370.7" width="40.9" height="1.5" fill="#D2E49A" opacity="0.34"/>
<rect x="99.3" y="373.5" width="51.1" height="0.8" fill="#D2E49A" opacity="0.43"/>
<rect x="98.2" y="374.9" width="52.6" height="1.2" fill="#D2E49A" opacity="0.40"/>
<rect x="106.7" y="376.6" width="44.9" height="1.0" fill="#D2E49A" opacity="0.15"/>
<rect x="101.9" y="378.0" width="49.1" height="1.2" fill="#D2E49A" opacity="0.53"/>
<rect x="97.0" y="380.4" width="51.1" height="1.5" fill="#D2E49A" opacity="0.52"/>
<rect x="96.3" y="383.1" width="54.0" height="1.5" fill="#D2E49A" opacity="0.47"/>
<rect x="105.7" y="385.0" width="45.7" height="1.0" fill="#D2E49A" opacity="0.31"/>
<rect x="98.9" y="386.4" width="45.5" height="1.0" fill="#D2E49A" opacity="0.23"/>
<rect x="104.3" y="388.7" width="45.3" height="0.8" fill="#D2E49A" opacity="0.32"/>
<rect x="98.2" y="389.9" width="52.5" height="1.2" fill="#D2E49A" opacity="0.07"/>
<rect x="105.6" y="392.0" width="43.3" height="1.0" fill="#D2E49A" opacity="0.40"/>
<rect x="96.2" y="393.7" width="51.7" height="1.2" fill="#D2E49A" opacity="0.04"/>
<rect x="100.5" y="395.8" width="46.7" height="1.5" fill="#D2E49A" opacity="0.05"/>
<rect x="100.6" y="398.3" width="50.0" height="0.8" fill="#D2E49A" opacity="0.30"/>
<rect x="96.4" y="400.5" width="48.4" height="1.2" fill="#D2E49A" opacity="0.19"/>
<rect x="106.2" y="402.9" width="35.7" height="1.5" fill="#D2E49A" opacity="0.19"/>
<rect x="100.7" y="405.1" width="41.8" height="1.0" fill="#D2E49A" opacity="0.17"/>
<rect x="105.6" y="406.9" width="43.3" height="1.0" fill="#D2E49A" opacity="0.19"/>
<rect x="97.4" y="409.2" width="55.8" height="1.5" fill="#D2E49A" opacity="0.33"/>
<rect x="103.3" y="411.1" width="46.1" height="1.5" fill="#D2E49A" opacity="0.04"/>
<rect x="97.7" y="413.5" width="54.0" height="1.0" fill="#D2E49A" opacity="0.15"/>
<rect x="105.5" y="414.9" width="36.7" height="1.5" fill="#D2E49A" opacity="0.20"/>
<rect x="96.3" y="416.9" width="46.5" height="1.0" fill="#D2E49A" opacity="0.34"/>
<rect x="104.3" y="418.5" width="41.2" height="1.5" fill="#D2E49A" opacity="0.03"/>
<rect x="103.2" y="421.3" width="48.3" height="1.0" fill="#D2E49A" opacity="0.24"/>
<rect x="107.1" y="423.1" width="44.9" height="1.0" fill="#D2E49A" opacity="0.02"/>
<rect x="104.5" y="424.8" width="38.5" height="1.0" fill="#D2E49A" opacity="0.09"/>
<rect x="99.7" y="426.2" width="49.4" height="0.8" fill="#D2E49A" opacity="0.25"/>
<rect x="99.5" y="427.8" width="51.3" height="1.2" fill="#D2E49A" opacity="0.24"/>
<rect x="101.1" y="429.7" width="52.5" height="1.2" fill="#D2E49A" opacity="0.16"/>
<rect x="101.2" y="431.9" width="45.2" height="1.5" fill="#D2E49A" opacity="0.17"/>
<rect x="100.6" y="434.6" width="52.4" height="1.0" fill="#D2E49A" opacity="0.28"/>
<rect x="101.1" y="436.3" width="46.6" height="1.2" fill="#D2E49A" opacity="0.03"/>
<rect x="104.6" y="437.8" width="39.9" height="1.0" fill="#D2E49A" opacity="0.03"/>
<rect x="106.5" y="439.7" width="39.4" height="0.8" fill="#D2E49A" opacity="0.25"/>
<rect x="107.8" y="441.7" width="37.3" height="0.8" fill="#D2E49A" opacity="0.28"/>
<rect x="106.4" y="443.7" width="43.9" height="1.0" fill="#D2E49A" opacity="0.04"/>
<rect x="104.5" y="445.8" width="46.7" height="1.0" fill="#D2E49A" opacity="0.22"/>
<rect x="106.6" y="448.1" width="43.9" height="1.2" fill="#D2E49A" opacity="0.05"/>
<rect x="107.4" y="450.5" width="40.7" height="1.0" fill="#D2E49A" opacity="0.08"/>
<rect x="96.2" y="452.4" width="55.4" height="1.0" fill="#D2E49A" opacity="0.09"/>
<rect x="106.5" y="453.9" width="45.2" height="1.2" fill="#D2E49A" opacity="0.20"/>
<rect x="96.4" y="456.3" width="47.1" height="0.8" fill="#D2E49A" opacity="0.22"/>
</g></g>
<polygon points="120.10,320.0 129.50,320.0 128.80,458.6 120.80,458.6" fill="url(#h2c)" opacity="0.18" filter="url(#bl1_5)"/>
<clipPath id="h2cc"><polygon points="122.10,320.0 127.50,320.0 126.80,458.6 122.80,458.6"/></clipPath>
<g filter="url(#bl0_8)"><g clip-path="url(#h2cc)"><rect x="122.10000000000001" y="320.0" width="5.4" height="138.60000000000002" fill="url(#h2c)"/>
<rect x="122.10" y="320.0" width="5.4" height="1.2" fill="#F5F9C8" opacity="0.22"/>
<rect x="122.10" y="322.6" width="5.4" height="0.6" fill="#5A9E58" opacity="0.19"/>
<rect x="122.10" y="324.7" width="5.4" height="1.0" fill="#5A9E58" opacity="0.27"/>
<rect x="122.10" y="326.7" width="5.4" height="1.0" fill="#5A9E58" opacity="0.12"/>
<rect x="122.10" y="328.3" width="5.4" height="0.6" fill="#5A9E58" opacity="0.18"/>
<rect x="122.10" y="329.6" width="5.4" height="1.0" fill="#F5F9C8" opacity="0.27"/>
<rect x="122.10" y="331.2" width="5.4" height="1.0" fill="#F5F9C8" opacity="0.18"/>
<rect x="122.10" y="333.2" width="5.4" height="0.6" fill="#5A9E58" opacity="0.13"/>
<rect x="122.10" y="334.9" width="5.4" height="0.6" fill="#5A9E58" opacity="0.18"/>
<rect x="122.10" y="336.2" width="5.4" height="1.0" fill="#F5F9C8" opacity="0.17"/>
<rect x="122.10" y="337.9" width="5.4" height="0.8" fill="#5A9E58" opacity="0.19"/>
<rect x="122.10" y="339.6" width="5.4" height="0.8" fill="#5A9E58" opacity="0.21"/>
<rect x="122.10" y="341.6" width="5.4" height="1.2" fill="#5A9E58" opacity="0.18"/>
<rect x="122.10" y="344.3" width="5.4" height="1.0" fill="#5A9E58" opacity="0.13"/>
<rect x="122.10" y="345.6" width="5.4" height="1.0" fill="#F5F9C8" opacity="0.22"/>
<rect x="122.10" y="347.7" width="5.4" height="1.2" fill="#5A9E58" opacity="0.21"/>
<rect x="122.10" y="349.2" width="5.4" height="0.6" fill="#5A9E58" opacity="0.12"/>
<rect x="122.10" y="350.2" width="5.4" height="0.6" fill="#5A9E58" opacity="0.16"/>
<rect x="122.10" y="352.3" width="5.4" height="0.8" fill="#5A9E58" opacity="0.15"/>
<rect x="122.10" y="354.3" width="5.4" height="1.2" fill="#F5F9C8" opacity="0.10"/>
<rect x="122.10" y="356.2" width="5.4" height="1.0" fill="#F5F9C8" opacity="0.35"/>
<rect x="122.10" y="358.4" width="5.4" height="1.2" fill="#F5F9C8" opacity="0.05"/>
<rect x="122.10" y="361.0" width="5.4" height="1.2" fill="#5A9E58" opacity="0.16"/>
<rect x="122.10" y="362.7" width="5.4" height="0.6" fill="#5A9E58" opacity="0.16"/>
<rect x="122.10" y="363.8" width="5.4" height="1.0" fill="#F5F9C8" opacity="0.13"/>
<rect x="122.10" y="365.8" width="5.4" height="1.2" fill="#F5F9C8" opacity="0.33"/>
<rect x="122.10" y="368.6" width="5.4" height="1.0" fill="#F5F9C8" opacity="0.34"/>
<rect x="122.10" y="370.2" width="5.4" height="0.6" fill="#5A9E58" opacity="0.17"/>
<rect x="122.10" y="372.2" width="5.4" height="0.8" fill="#F5F9C8" opacity="0.27"/>
<rect x="122.10" y="373.7" width="5.4" height="1.2" fill="#5A9E58" opacity="0.10"/>
<rect x="122.10" y="376.4" width="5.4" height="1.2" fill="#F5F9C8" opacity="0.21"/>
<rect x="122.10" y="377.9" width="5.4" height="0.6" fill="#5A9E58" opacity="0.14"/>
<rect x="122.10" y="379.5" width="5.4" height="1.0" fill="#F5F9C8" opacity="0.17"/>
<rect x="122.10" y="381.6" width="5.4" height="0.8" fill="#5A9E58" opacity="0.07"/>
<rect x="122.10" y="382.8" width="5.4" height="0.8" fill="#5A9E58" opacity="0.08"/>
<rect x="122.10" y="383.9" width="5.4" height="0.6" fill="#5A9E58" opacity="0.13"/>
<rect x="122.10" y="384.9" width="5.4" height="0.6" fill="#F5F9C8" opacity="0.07"/>
<rect x="122.10" y="386.6" width="5.4" height="1.0" fill="#5A9E58" opacity="0.15"/>
<rect x="122.10" y="388.6" width="5.4" height="0.6" fill="#F5F9C8" opacity="0.28"/>
<rect x="122.10" y="390.4" width="5.4" height="1.2" fill="#5A9E58" opacity="0.08"/>
<rect x="122.10" y="392.0" width="5.4" height="0.6" fill="#F5F9C8" opacity="0.32"/>
<rect x="122.10" y="393.9" width="5.4" height="0.6" fill="#F5F9C8" opacity="0.24"/>
<rect x="122.10" y="395.2" width="5.4" height="0.6" fill="#5A9E58" opacity="0.12"/>
<rect x="122.10" y="396.9" width="5.4" height="1.0" fill="#5A9E58" opacity="0.09"/>
<rect x="122.10" y="398.3" width="5.4" height="1.0" fill="#F5F9C8" opacity="0.06"/>
<rect x="122.10" y="400.5" width="5.4" height="1.0" fill="#F5F9C8" opacity="0.23"/>
<rect x="122.10" y="402.5" width="5.4" height="1.0" fill="#F5F9C8" opacity="0.06"/>
<rect x="122.10" y="404.3" width="5.4" height="1.2" fill="#F5F9C8" opacity="0.08"/>
<rect x="122.10" y="406.4" width="5.4" height="0.6" fill="#F5F9C8" opacity="0.11"/>
<rect x="122.10" y="408.4" width="5.4" height="0.6" fill="#F5F9C8" opacity="0.14"/>
<rect x="122.10" y="409.9" width="5.4" height="0.8" fill="#5A9E58" opacity="0.10"/>
<rect x="122.10" y="411.1" width="5.4" height="1.0" fill="#F5F9C8" opacity="0.20"/>
<rect x="122.10" y="413.4" width="5.4" height="0.8" fill="#F5F9C8" opacity="0.23"/>
<rect x="122.10" y="415.7" width="5.4" height="1.0" fill="#F5F9C8" opacity="0.10"/>
<rect x="122.10" y="418.1" width="5.4" height="0.8" fill="#F5F9C8" opacity="0.08"/>
<rect x="122.10" y="420.0" width="5.4" height="0.6" fill="#F5F9C8" opacity="0.35"/>
<rect x="122.10" y="421.7" width="5.4" height="0.6" fill="#F5F9C8" opacity="0.16"/>
<rect x="122.10" y="423.1" width="5.4" height="1.2" fill="#F5F9C8" opacity="0.27"/>
<rect x="122.10" y="425.1" width="5.4" height="0.6" fill="#5A9E58" opacity="0.05"/>
<rect x="122.10" y="426.6" width="5.4" height="0.8" fill="#5A9E58" opacity="0.08"/>
<rect x="122.10" y="428.0" width="5.4" height="1.2" fill="#5A9E58" opacity="0.06"/>
<rect x="122.10" y="430.4" width="5.4" height="0.6" fill="#5A9E58" opacity="0.05"/>
<rect x="122.10" y="431.5" width="5.4" height="1.2" fill="#F5F9C8" opacity="0.27"/>
<rect x="122.10" y="433.2" width="5.4" height="1.2" fill="#F5F9C8" opacity="0.13"/>
<rect x="122.10" y="435.0" width="5.4" height="1.0" fill="#F5F9C8" opacity="0.32"/>
<rect x="122.10" y="436.6" width="5.4" height="0.8" fill="#5A9E58" opacity="0.06"/>
<rect x="122.10" y="438.8" width="5.4" height="0.8" fill="#F5F9C8" opacity="0.34"/>
<rect x="122.10" y="440.8" width="5.4" height="1.0" fill="#5A9E58" opacity="0.03"/>
<rect x="122.10" y="442.4" width="5.4" height="0.6" fill="#5A9E58" opacity="0.04"/>
<rect x="122.10" y="443.5" width="5.4" height="0.8" fill="#F5F9C8" opacity="0.29"/>
<rect x="122.10" y="445.6" width="5.4" height="1.2" fill="#5A9E58" opacity="0.02"/>
<rect x="122.10" y="448.3" width="5.4" height="1.0" fill="#5A9E58" opacity="0.03"/>
<rect x="122.10" y="449.6" width="5.4" height="1.2" fill="#F5F9C8" opacity="0.18"/>
<rect x="122.10" y="451.4" width="5.4" height="1.0" fill="#F5F9C8" opacity="0.09"/>
<rect x="122.10" y="456.1" width="5.4" height="1.2" fill="#F5F9C8" opacity="0.25"/>
</g>
</g>
<rect x="95.8" y="320.0" width="58.000000000000014" height="138.60000000000002" fill="none" stroke="#7a7a7a" stroke-width="0.8"/>
<polyline points="96.30,317.19 97.01,317.19 97.71,317.19 98.42,317.19 99.12,317.19 99.83,317.18 100.54,317.18 101.24,317.18 101.95,317.18 102.66,317.18 103.36,317.17 104.07,317.17 104.78,317.17 105.48,317.17 106.19,317.16 106.89,317.16 107.60,317.15 108.31,317.15 109.01,317.14 109.72,317.14 110.42,317.13 111.13,317.12 111.84,317.12 112.54,317.11 113.25,317.10 113.96,317.09 114.66,317.07 115.37,317.06 116.08,317.05 116.78,317.03 117.49,317.01 118.19,316.99 118.90,316.93 119.61,316.72 120.31,316.07 121.02,314.56 121.72,312.02 122.43,308.89 123.14,306.10 123.84,304.39 124.55,303.83 125.26,303.91 125.96,304.76 126.67,306.82 127.38,309.81 128.08,312.86 128.79,315.11 129.49,316.33 130.20,316.81 130.91,316.95 131.61,316.99 132.32,317.02 133.03,317.03 133.73,317.05 134.44,317.06 135.14,317.08 135.85,317.09 136.56,317.10 137.26,317.11 137.97,317.12 138.68,317.13 139.38,317.13 140.09,317.14 140.79,317.15 141.50,317.15 142.21,317.16 142.91,317.16 143.62,317.16 144.33,317.17 145.03,317.17 145.74,317.17 146.44,317.18 147.15,317.18 147.86,317.18 148.56,317.18 149.27,317.18 149.98,317.19 150.68,317.19 151.39,317.19 152.09,317.19 152.80,317.19" fill="none" stroke="#86B57A" stroke-width="1.15"/>
<text x="114.60" y="298.20" font-size="9.01" text-anchor="start" fill="#222" stroke="#222" stroke-width="0.22" textLength="19.60" lengthAdjust="spacingAndGlyphs">Oct2</text>
<linearGradient id="h2b" x1="0" y1="0" x2="1" y2="0"><stop offset="0.000" stop-color="#FDFDE0"/><stop offset="0.143" stop-color="#EEF6B8"/><stop offset="0.286" stop-color="#CDE6A0"/><stop offset="0.429" stop-color="#9ECC7C"/><stop offset="0.571" stop-color="#64AC62"/><stop offset="0.714" stop-color="#3A8A50"/><stop offset="0.857" stop-color="#2A6A40"/><stop offset="1.000" stop-color="#1A4A30"/></linearGradient>
<rect x="109.4" y="471.2" width="30.400000000000006" height="6.6" fill="url(#h2b)"/>
<text x="109.70" y="486.50" font-size="6.48" text-anchor="start" fill="#222" stroke="#222" stroke-width="0.22" textLength="29.80" lengthAdjust="spacingAndGlyphs">0 2 4 6 8</text>
<linearGradient id="h3c" x1="0" y1="0" x2="0" y2="1"><stop offset="0" stop-color="#4C86BC"/><stop offset="0.3" stop-color="#78A2CE"/><stop offset="1" stop-color="#A8C0DE"/></linearGradient>
<rect x="162.8" y="320.0" width="58.19999999999999" height="138.60000000000002" fill="#EEE8F4"/>
<clipPath id="h3clip"><rect x="162.8" y="320.0" width="58.19999999999999" height="138.60000000000002"/></clipPath>
<g clip-path="url(#h3clip)"><g filter="url(#bl0_8)">
<rect x="170.5" y="320.0" width="45.1" height="1.0" fill="#D2CCE6" opacity="0.49"/>
<rect x="165.7" y="321.6" width="50.5" height="0.8" fill="#D2CCE6" opacity="0.64"/>
<rect x="167.9" y="323.5" width="47.7" height="1.0" fill="#D2CCE6" opacity="0.18"/>
<rect x="170.7" y="325.5" width="39.8" height="1.5" fill="#D2CCE6" opacity="0.36"/>
<rect x="167.5" y="328.3" width="47.7" height="1.2" fill="#D2CCE6" opacity="0.54"/>
<rect x="165.4" y="330.9" width="47.0" height="0.8" fill="#D2CCE6" opacity="0.17"/>
<rect x="164.0" y="333.0" width="50.1" height="1.0" fill="#D2CCE6" opacity="0.35"/>
<rect x="170.5" y="334.9" width="40.6" height="1.5" fill="#D2CCE6" opacity="0.34"/>
<rect x="168.3" y="337.3" width="40.8" height="1.5" fill="#D2CCE6" opacity="0.49"/>
<rect x="170.2" y="339.3" width="43.2" height="0.8" fill="#D2CCE6" opacity="0.48"/>
<rect x="163.0" y="340.7" width="53.0" height="1.5" fill="#D2CCE6" opacity="0.26"/>
<rect x="164.1" y="342.9" width="53.2" height="1.2" fill="#D2CCE6" opacity="0.37"/>
<rect x="174.3" y="344.9" width="41.1" height="1.0" fill="#D2CCE6" opacity="0.63"/>
<rect x="170.4" y="346.3" width="45.0" height="0.8" fill="#D2CCE6" opacity="0.51"/>
<rect x="164.6" y="348.1" width="48.5" height="1.0" fill="#D2CCE6" opacity="0.51"/>
<rect x="166.3" y="350.3" width="48.1" height="1.5" fill="#D2CCE6" opacity="0.29"/>
<rect x="173.0" y="352.2" width="44.8" height="1.5" fill="#D2CCE6" opacity="0.22"/>
<rect x="170.9" y="354.4" width="44.3" height="1.2" fill="#D2CCE6" opacity="0.60"/>
<rect x="170.7" y="356.8" width="46.5" height="1.2" fill="#D2CCE6" opacity="0.21"/>
<rect x="167.1" y="358.9" width="42.7" height="0.8" fill="#D2CCE6" opacity="0.39"/>
<rect x="169.6" y="360.9" width="47.5" height="0.8" fill="#D2CCE6" opacity="0.05"/>
<rect x="163.0" y="363.0" width="57.9" height="1.2" fill="#D2CCE6" opacity="0.37"/>
<rect x="164.0" y="365.6" width="55.3" height="1.2" fill="#D2CCE6" opacity="0.14"/>
<rect x="164.6" y="367.3" width="45.5" height="1.5" fill="#D2CCE6" opacity="0.20"/>
<rect x="171.1" y="370.0" width="38.2" height="1.0" fill="#D2CCE6" opacity="0.34"/>
<rect x="171.1" y="371.4" width="43.5" height="1.2" fill="#D2CCE6" opacity="0.11"/>
<rect x="164.2" y="373.7" width="55.4" height="1.5" fill="#D2CCE6" opacity="0.37"/>
<rect x="169.5" y="376.0" width="45.7" height="1.0" fill="#D2CCE6" opacity="0.25"/>
<rect x="164.8" y="378.3" width="49.0" height="1.5" fill="#D2CCE6" opacity="0.13"/>
<rect x="168.4" y="380.9" width="45.8" height="1.0" fill="#D2CCE6" opacity="0.44"/>
<rect x="167.8" y="382.9" width="41.6" height="1.5" fill="#D2CCE6" opacity="0.19"/>
<rect x="163.1" y="384.8" width="50.5" height="1.2" fill="#D2CCE6" opacity="0.32"/>
<rect x="163.9" y="387.0" width="51.3" height="1.2" fill="#D2CCE6" opacity="0.41"/>
<rect x="171.4" y="389.4" width="42.1" height="1.0" fill="#D2CCE6" opacity="0.02"/>
<rect x="172.1" y="391.1" width="42.2" height="1.2" fill="#D2CCE6" opacity="0.17"/>
<rect x="167.9" y="393.6" width="46.5" height="1.2" fill="#D2CCE6" opacity="0.21"/>
<rect x="168.7" y="396.0" width="48.3" height="1.2" fill="#D2CCE6" opacity="0.17"/>
<rect x="170.7" y="398.5" width="40.8" height="1.2" fill="#D2CCE6" opacity="0.45"/>
<rect x="164.3" y="400.4" width="45.0" height="1.2" fill="#D2CCE6" opacity="0.33"/>
<rect x="169.5" y="402.0" width="46.7" height="0.8" fill="#D2CCE6" opacity="0.18"/>
<rect x="162.9" y="403.7" width="55.8" height="1.5" fill="#D2CCE6" opacity="0.13"/>
<rect x="173.7" y="406.6" width="39.9" height="0.8" fill="#D2CCE6" opacity="0.35"/>
<rect x="170.8" y="408.3" width="44.7" height="0.8" fill="#D2CCE6" opacity="0.09"/>
<rect x="173.2" y="410.3" width="42.7" height="0.8" fill="#D2CCE6" opacity="0.28"/>
<rect x="172.7" y="411.5" width="38.9" height="0.8" fill="#D2CCE6" opacity="0.16"/>
<rect x="165.0" y="413.2" width="55.6" height="1.2" fill="#D2CCE6" opacity="0.36"/>
<rect x="169.1" y="414.7" width="42.0" height="0.8" fill="#D2CCE6" opacity="0.21"/>
<rect x="173.8" y="416.7" width="41.8" height="1.5" fill="#D2CCE6" opacity="0.23"/>
<rect x="174.7" y="418.5" width="38.4" height="1.5" fill="#D2CCE6" opacity="0.24"/>
<rect x="163.8" y="420.5" width="51.5" height="1.5" fill="#D2CCE6" opacity="0.22"/>
<rect x="162.9" y="423.2" width="50.1" height="0.8" fill="#D2CCE6" opacity="0.17"/>
<rect x="164.3" y="425.4" width="51.1" height="0.8" fill="#D2CCE6" opacity="0.08"/>
<rect x="171.7" y="426.8" width="38.2" height="1.0" fill="#D2CCE6" opacity="0.17"/>
<rect x="163.8" y="428.5" width="49.6" height="1.0" fill="#D2CCE6" opacity="0.27"/>
<rect x="173.5" y="430.6" width="36.6" height="1.5" fill="#D2CCE6" opacity="0.24"/>
<rect x="163.0" y="432.5" width="50.2" height="0.8" fill="#D2CCE6" opacity="0.00"/>
<rect x="166.5" y="434.5" width="47.2" height="0.8" fill="#D2CCE6" opacity="0.14"/>
<rect x="166.6" y="436.6" width="43.0" height="1.5" fill="#D2CCE6" opacity="0.21"/>
<rect x="164.5" y="439.2" width="46.9" height="1.5" fill="#D2CCE6" opacity="0.23"/>
<rect x="167.8" y="441.4" width="48.6" height="1.0" fill="#D2CCE6" opacity="0.21"/>
<rect x="169.6" y="443.6" width="47.9" height="1.2" fill="#D2CCE6" opacity="0.25"/>
<rect x="171.5" y="445.2" width="49.3" height="1.2" fill="#D2CCE6" opacity="0.28"/>
<rect x="174.5" y="446.8" width="43.5" height="1.2" fill="#D2CCE6" opacity="0.18"/>
<rect x="173.6" y="448.8" width="37.8" height="1.5" fill="#D2CCE6" opacity="0.18"/>
<rect x="166.0" y="450.9" width="53.1" height="0.8" fill="#D2CCE6" opacity="0.10"/>
<rect x="164.5" y="453.0" width="45.8" height="0.8" fill="#D2CCE6" opacity="0.08"/>
<rect x="173.0" y="455.2" width="38.3" height="1.0" fill="#D2CCE6" opacity="0.08"/>
<rect x="163.8" y="457.2" width="50.5" height="1.5" fill="#D2CCE6" opacity="0.10"/>
</g></g>
<polygon points="187.80,320.0 196.00,320.0 195.30,458.6 188.50,458.6" fill="url(#h3c)" opacity="0.15" filter="url(#bl1_5)"/>
<clipPath id="h3cc"><polygon points="189.80,320.0 194.00,320.0 193.30,458.6 190.50,458.6"/></clipPath>
<g filter="url(#bl0_8)"><g clip-path="url(#h3cc)"><rect x="189.8" y="320.0" width="4.2" height="138.60000000000002" fill="url(#h3c)"/>
<rect x="189.80" y="320.0" width="4.2" height="0.8" fill="#EEE8F4" opacity="0.27"/>
<rect x="189.80" y="322.4" width="4.2" height="1.0" fill="#EEE8F4" opacity="0.25"/>
<rect x="189.80" y="324.3" width="4.2" height="0.8" fill="#EEE8F4" opacity="0.23"/>
<rect x="189.80" y="325.4" width="4.2" height="1.2" fill="#EEE8F4" opacity="0.08"/>
<rect x="189.80" y="327.9" width="4.2" height="0.6" fill="#3A74A8" opacity="0.32"/>
<rect x="189.80" y="330.0" width="4.2" height="1.0" fill="#EEE8F4" opacity="0.23"/>
<rect x="189.80" y="331.6" width="4.2" height="0.8" fill="#3A74A8" opacity="0.39"/>
<rect x="189.80" y="333.0" width="4.2" height="1.0" fill="#3A74A8" opacity="0.28"/>
<rect x="189.80" y="334.5" width="4.2" height="0.6" fill="#EEE8F4" opacity="0.20"/>
<rect x="189.80" y="336.6" width="4.2" height="1.0" fill="#EEE8F4" opacity="0.29"/>
<rect x="189.80" y="338.1" width="4.2" height="0.6" fill="#3A74A8" opacity="0.27"/>
<rect x="189.80" y="339.0" width="4.2" height="0.6" fill="#3A74A8" opacity="0.39"/>
<rect x="189.80" y="340.6" width="4.2" height="0.8" fill="#3A74A8" opacity="0.35"/>
<rect x="189.80" y="342.3" width="4.2" height="1.2" fill="#EEE8F4" opacity="0.30"/>
<rect x="189.80" y="345.0" width="4.2" height="1.0" fill="#EEE8F4" opacity="0.15"/>
<rect x="189.80" y="347.6" width="4.2" height="1.2" fill="#3A74A8" opacity="0.11"/>
<rect x="189.80" y="349.8" width="4.2" height="1.2" fill="#EEE8F4" opacity="0.30"/>
<rect x="189.80" y="352.5" width="4.2" height="1.2" fill="#EEE8F4" opacity="0.26"/>
<rect x="189.80" y="354.1" width="4.2" height="1.0" fill="#EEE8F4" opacity="0.24"/>
<rect x="189.80" y="356.7" width="4.2" height="1.2" fill="#3A74A8" opacity="0.33"/>
<rect x="189.80" y="358.6" width="4.2" height="0.8" fill="#EEE8F4" opacity="0.12"/>
<rect x="189.80" y="359.8" width="4.2" height="1.0" fill="#EEE8F4" opacity="0.07"/>
<rect x="189.80" y="361.8" width="4.2" height="0.6" fill="#EEE8F4" opacity="0.06"/>
<rect x="189.80" y="363.7" width="4.2" height="1.2" fill="#3A74A8" opacity="0.12"/>
<rect x="189.80" y="366.2" width="4.2" height="0.8" fill="#EEE8F4" opacity="0.14"/>
<rect x="189.80" y="368.1" width="4.2" height="0.6" fill="#EEE8F4" opacity="0.16"/>
<rect x="189.80" y="369.5" width="4.2" height="1.0" fill="#EEE8F4" opacity="0.10"/>
<rect x="189.80" y="371.1" width="4.2" height="0.8" fill="#EEE8F4" opacity="0.32"/>
<rect x="189.80" y="372.8" width="4.2" height="0.8" fill="#EEE8F4" opacity="0.10"/>
<rect x="189.80" y="375.0" width="4.2" height="0.6" fill="#EEE8F4" opacity="0.31"/>
<rect x="189.80" y="377.1" width="4.2" height="0.8" fill="#EEE8F4" opacity="0.34"/>
<rect x="189.80" y="379.4" width="4.2" height="1.2" fill="#EEE8F4" opacity="0.24"/>
<rect x="189.80" y="381.4" width="4.2" height="1.0" fill="#3A74A8" opacity="0.12"/>
<rect x="189.80" y="382.9" width="4.2" height="1.0" fill="#3A74A8" opacity="0.11"/>
<rect x="189.80" y="384.3" width="4.2" height="1.2" fill="#EEE8F4" opacity="0.09"/>
<rect x="189.80" y="386.9" width="4.2" height="1.0" fill="#3A74A8" opacity="0.12"/>
<rect x="189.80" y="388.2" width="4.2" height="1.0" fill="#3A74A8" opacity="0.10"/>
<rect x="189.80" y="390.2" width="4.2" height="1.0" fill="#EEE8F4" opacity="0.19"/>
<rect x="189.80" y="391.7" width="4.2" height="0.6" fill="#EEE8F4" opacity="0.29"/>
<rect x="189.80" y="393.8" width="4.2" height="1.2" fill="#EEE8F4" opacity="0.09"/>
<rect x="189.80" y="396.3" width="4.2" height="1.0" fill="#3A74A8" opacity="0.11"/>
<rect x="189.80" y="397.9" width="4.2" height="0.8" fill="#3A74A8" opacity="0.11"/>
<rect x="189.80" y="400.1" width="4.2" height="0.6" fill="#EEE8F4" opacity="0.34"/>
<rect x="189.80" y="401.2" width="4.2" height="0.6" fill="#3A74A8" opacity="0.14"/>
<rect x="189.80" y="402.8" width="4.2" height="1.2" fill="#3A74A8" opacity="0.20"/>
<rect x="189.80" y="405.0" width="4.2" height="0.8" fill="#3A74A8" opacity="0.06"/>
<rect x="189.80" y="406.6" width="4.2" height="1.0" fill="#EEE8F4" opacity="0.09"/>
<rect x="189.80" y="408.1" width="4.2" height="0.8" fill="#EEE8F4" opacity="0.11"/>
<rect x="189.80" y="409.3" width="4.2" height="0.6" fill="#EEE8F4" opacity="0.27"/>
<rect x="189.80" y="411.2" width="4.2" height="0.8" fill="#3A74A8" opacity="0.14"/>
<rect x="189.80" y="413.2" width="4.2" height="0.8" fill="#EEE8F4" opacity="0.11"/>
<rect x="189.80" y="414.4" width="4.2" height="1.2" fill="#EEE8F4" opacity="0.32"/>
<rect x="189.80" y="416.6" width="4.2" height="1.0" fill="#3A74A8" opacity="0.16"/>
<rect x="189.80" y="419.0" width="4.2" height="1.2" fill="#3A74A8" opacity="0.09"/>
<rect x="189.80" y="421.5" width="4.2" height="0.8" fill="#EEE8F4" opacity="0.13"/>
<rect x="189.80" y="422.9" width="4.2" height="1.0" fill="#3A74A8" opacity="0.12"/>
<rect x="189.80" y="424.9" width="4.2" height="0.6" fill="#3A74A8" opacity="0.15"/>
<rect x="189.80" y="427.1" width="4.2" height="0.6" fill="#3A74A8" opacity="0.11"/>
<rect x="189.80" y="429.0" width="4.2" height="1.0" fill="#EEE8F4" opacity="0.31"/>
<rect x="189.80" y="431.1" width="4.2" height="0.6" fill="#3A74A8" opacity="0.04"/>
<rect x="189.80" y="432.9" width="4.2" height="1.2" fill="#EEE8F4" opacity="0.21"/>
<rect x="189.80" y="435.1" width="4.2" height="0.6" fill="#3A74A8" opacity="0.04"/>
<rect x="189.80" y="436.8" width="4.2" height="0.8" fill="#3A74A8" opacity="0.05"/>
<rect x="189.80" y="439.0" width="4.2" height="0.6" fill="#3A74A8" opacity="0.10"/>
<rect x="189.80" y="440.9" width="4.2" height="1.0" fill="#3A74A8" opacity="0.07"/>
<rect x="189.80" y="442.9" width="4.2" height="0.8" fill="#EEE8F4" opacity="0.08"/>
<rect x="189.80" y="445.1" width="4.2" height="0.8" fill="#3A74A8" opacity="0.03"/>
<rect x="189.80" y="446.9" width="4.2" height="1.0" fill="#3A74A8" opacity="0.03"/>
<rect x="189.80" y="449.3" width="4.2" height="0.8" fill="#EEE8F4" opacity="0.09"/>
<rect x="189.80" y="451.2" width="4.2" height="1.2" fill="#3A74A8" opacity="0.06"/>
<rect x="189.80" y="453.9" width="4.2" height="1.2" fill="#EEE8F4" opacity="0.23"/>
<rect x="189.80" y="456.2" width="4.2" height="0.6" fill="#3A74A8" opacity="0.05"/>
<rect x="189.80" y="458.1" width="4.2" height="1.0" fill="#3A74A8" opacity="0.04"/>
</g>
</g>
<rect x="162.8" y="320.0" width="58.19999999999999" height="138.60000000000002" fill="none" stroke="#7a7a7a" stroke-width="0.8"/>
<polyline points="163.30,317.19 164.01,317.19 164.72,317.19 165.43,317.19 166.14,317.19 166.84,317.19 167.55,317.18 168.26,317.18 168.97,317.18 169.68,317.18 170.39,317.18 171.10,317.17 171.81,317.17 172.51,317.17 173.22,317.16 173.93,317.16 174.64,317.15 175.35,317.15 176.06,317.14 176.77,317.14 177.48,317.13 178.18,317.12 178.89,317.12 179.60,317.11 180.31,317.10 181.02,317.09 181.73,317.07 182.44,317.06 183.15,317.05 183.85,317.03 184.56,317.01 185.27,316.99 185.98,316.93 186.69,316.72 187.40,316.09 188.11,314.60 188.81,312.06 189.52,308.92 190.23,306.11 190.94,304.40 191.65,303.83 192.36,303.91 193.07,304.77 193.78,306.85 194.49,309.86 195.19,312.90 195.90,315.15 196.61,316.34 197.32,316.81 198.03,316.95 198.74,317.00 199.45,317.02 200.16,317.04 200.86,317.05 201.57,317.07 202.28,317.08 202.99,317.09 203.70,317.10 204.41,317.11 205.12,317.12 205.82,317.13 206.53,317.13 207.24,317.14 207.95,317.15 208.66,317.15 209.37,317.16 210.08,317.16 210.79,317.16 211.50,317.17 212.20,317.17 212.91,317.17 213.62,317.18 214.33,317.18 215.04,317.18 215.75,317.18 216.46,317.18 217.16,317.19 217.87,317.19 218.58,317.19 219.29,317.19 220.00,317.19" fill="none" stroke="#5580C8" stroke-width="1.15"/>
<text x="180.40" y="298.20" font-size="9.01" text-anchor="start" fill="#222" stroke="#222" stroke-width="0.22" textLength="22.40" lengthAdjust="spacingAndGlyphs">OBF1</text>
<linearGradient id="h3b" x1="0" y1="0" x2="1" y2="0"><stop offset="0.000" stop-color="#FBF4FA"/><stop offset="0.143" stop-color="#E2DCEE"/><stop offset="0.286" stop-color="#BCC8E2"/><stop offset="0.429" stop-color="#88AED6"/><stop offset="0.571" stop-color="#5A8EC2"/><stop offset="0.714" stop-color="#3A7890"/><stop offset="0.857" stop-color="#2A6050"/><stop offset="1.000" stop-color="#1C4434"/></linearGradient>
<rect x="181" y="471.2" width="22.599999999999994" height="6.6" fill="url(#h3b)"/>
<text x="181.30" y="486.50" font-size="6.48" text-anchor="start" fill="#222" stroke="#222" stroke-width="0.22" textLength="22.00" lengthAdjust="spacingAndGlyphs">0 2 4 6</text>
<line x1="28.60" y1="458.60" x2="28.60" y2="461.20" stroke="#555" stroke-width="0.8"/>
<line x1="57.70" y1="458.60" x2="57.70" y2="461.20" stroke="#555" stroke-width="0.8"/>
<line x1="86.80" y1="458.60" x2="86.80" y2="461.20" stroke="#555" stroke-width="0.8"/>
<text x="19.60" y="469.60" font-size="6.34" text-anchor="start" fill="#222" stroke="#222" stroke-width="0.22" textLength="18.20" lengthAdjust="spacingAndGlyphs">-2.5kb</text>
<text x="78.00" y="469.60" font-size="6.34" text-anchor="start" fill="#222" stroke="#222" stroke-width="0.22" textLength="16.60" lengthAdjust="spacingAndGlyphs">2.5kb</text>
<line x1="275.30" y1="326.80" x2="275.30" y2="447.40" stroke="#000" stroke-width="1.1"/>
<line x1="274.80" y1="446.80" x2="407.20" y2="446.80" stroke="#000" stroke-width="1.1"/>
<line x1="272.40" y1="426.00" x2="275.30" y2="426.00" stroke="#000" stroke-width="0.9"/>
<text x="269.80" y="428.55" font-size="7.1" text-anchor="end" fill="#222" stroke="#222" stroke-width="0.22">20</text>
<line x1="272.40" y1="399.40" x2="275.30" y2="399.40" stroke="#000" stroke-width="0.9"/>
<text x="269.80" y="401.95" font-size="7.1" text-anchor="end" fill="#222" stroke="#222" stroke-width="0.22">40</text>
<line x1="272.40" y1="372.80" x2="275.30" y2="372.80" stroke="#000" stroke-width="0.9"/>
<text x="269.80" y="375.35" font-size="7.1" text-anchor="end" fill="#222" stroke="#222" stroke-width="0.22">60</text>
<line x1="272.40" y1="346.20" x2="275.30" y2="346.20" stroke="#000" stroke-width="0.9"/>
<text x="269.80" y="348.75" font-size="7.1" text-anchor="end" fill="#222" stroke="#222" stroke-width="0.22">80</text>
<line x1="292.50" y1="446.80" x2="292.50" y2="450.00" stroke="#000" stroke-width="0.9"/>
<line x1="317.50" y1="446.80" x2="317.50" y2="450.00" stroke="#000" stroke-width="0.9"/>
<line x1="342.50" y1="446.80" x2="342.50" y2="450.00" stroke="#000" stroke-width="0.9"/>
<line x1="367.50" y1="446.80" x2="367.50" y2="450.00" stroke="#000" stroke-width="0.9"/>
<line x1="392.50" y1="446.80" x2="392.50" y2="450.00" stroke="#000" stroke-width="0.9"/>
<text x="285.20" y="459.00" font-size="7.18" text-anchor="start" fill="#222" stroke="#222" stroke-width="0.22" textLength="15.00" lengthAdjust="spacingAndGlyphs">-2 kb</text>
<text x="341.30" y="459.00" font-size="7.18" text-anchor="start" fill="#222" stroke="#222" stroke-width="0.22" textLength="3.30" lengthAdjust="spacingAndGlyphs">0</text>
<text x="386.30" y="459.00" font-size="7.18" text-anchor="start" fill="#222" stroke="#222" stroke-width="0.22" textLength="13.20" lengthAdjust="spacingAndGlyphs">2 kb</text>
<text x="303.80" y="470.60" font-size="8.3" text-anchor="start" fill="#222" stroke="#222" stroke-width="0.22" textLength="75.70" lengthAdjust="spacingAndGlyphs">Distance to peak summit</text>
<text transform="translate(256.40,387.00) rotate(-90)" font-size="8.3" text-anchor="middle" fill="#222" stroke="#222" stroke-width="0.22" textLength="72.3" lengthAdjust="spacingAndGlyphs">Norm. number of reads</text>
<polyline points="282.00,439.88 282.40,439.86 282.81,439.84 283.21,439.82 283.61,439.80 284.02,439.78 284.42,439.76 284.82,439.74 285.23,439.72 285.63,439.70 286.03,439.68 286.44,439.66 286.84,439.64 287.24,439.61 287.65,439.59 288.05,439.57 288.45,439.54 288.86,439.52 289.26,439.49 289.66,439.47 290.07,439.44 290.47,439.41 290.87,439.39 291.28,439.36 291.68,439.33 292.08,439.30 292.49,439.27 292.89,439.24 293.29,439.21 293.70,439.17 294.10,439.14 294.50,439.11 294.91,439.07 295.31,439.04 295.71,439.00 296.12,438.96 296.52,438.93 296.92,438.89 297.33,438.85 297.73,438.81 298.13,438.76 298.54,438.72 298.94,438.68 299.34,438.63 299.75,438.58 300.15,438.54 300.55,438.49 300.96,438.44 301.36,438.39 301.76,438.33 302.17,438.28 302.57,438.22 302.97,438.16 303.38,438.10 303.78,438.04 304.18,437.98 304.59,437.92 304.99,437.85 305.39,437.78 305.80,437.71 306.20,437.64 306.60,437.56 307.01,437.49 307.41,437.41 307.81,437.33 308.22,437.24 308.62,437.16 309.02,437.07 309.43,436.97 309.83,436.88 310.23,436.78 310.64,436.68 311.04,436.57 311.44,436.46 311.85,436.35 312.25,436.24 312.65,436.12 313.06,435.99 313.46,435.86 313.86,435.73 314.27,435.59 314.67,435.45 315.07,435.30 315.48,435.15 315.88,434.99 316.28,434.83 316.69,434.65 317.09,434.48 317.49,434.29 317.90,434.10 318.30,433.90 318.70,433.70 319.11,433.48 319.51,433.26 319.91,433.03 320.32,432.79 320.72,432.53 321.12,432.27 321.53,432.00 321.93,431.72 322.33,431.42 322.74,431.11 323.14,430.79 323.54,430.46 323.95,430.11 324.35,429.74 324.75,429.36 325.16,428.96 325.56,428.55 325.96,428.12 326.37,427.67 326.77,427.20 327.17,426.70 327.58,426.19 327.98,425.66 328.38,425.10 328.79,424.51 329.19,423.91 329.59,423.27 330.00,422.61 330.40,421.93 330.80,421.21 331.21,420.47 331.61,419.70 332.01,418.91 332.42,418.08 332.82,417.22 333.22,416.25 333.63,414.77 334.03,411.84 334.43,406.45 334.84,398.40 335.24,388.73 335.64,378.98 336.05,370.41 336.45,363.58 336.85,358.49 337.26,354.85 337.66,352.26 338.06,350.40 338.47,349.01 338.87,347.92 339.27,347.05 339.68,346.34 340.08,345.82 340.48,345.52 340.89,345.46 341.29,345.62 341.69,345.91 342.10,346.18 342.50,346.29 342.90,346.18 343.31,345.91 343.71,345.62 344.11,345.46 344.52,345.52 344.92,345.82 345.32,346.34 345.73,347.05 346.13,347.92 346.53,349.01 346.94,350.40 347.34,352.26 347.74,354.85 348.15,358.49 348.55,363.58 348.95,370.41 349.36,378.98 349.76,388.73 350.16,398.40 350.57,406.45 350.97,411.84 351.37,414.77 351.78,416.25 352.18,417.22 352.58,418.08 352.99,418.91 353.39,419.70 353.79,420.47 354.20,421.21 354.60,421.93 355.00,422.61 355.41,423.27 355.81,423.91 356.21,424.51 356.62,425.10 357.02,425.66 357.42,426.19 357.83,426.70 358.23,427.20 358.63,427.67 359.04,428.12 359.44,428.55 359.84,428.96 360.25,429.36 360.65,429.74 361.05,430.11 361.46,430.46 361.86,430.79 362.26,431.11 362.67,431.42 363.07,431.72 363.47,432.00 363.88,432.27 364.28,432.53 364.68,432.79 365.09,433.03 365.49,433.26 365.89,433.48 366.30,433.70 366.70,433.90 367.10,434.10 367.51,434.29 367.91,434.48 368.31,434.65 368.72,434.83 369.12,434.99 369.52,435.15 369.93,435.30 370.33,435.45 370.73,435.59 371.14,435.73 371.54,435.86 371.94,435.99 372.35,436.12 372.75,436.24 373.15,436.35 373.56,436.46 373.96,436.57 374.36,436.68 374.77,436.78 375.17,436.88 375.57,436.97 375.98,437.07 376.38,437.16 376.78,437.24 377.19,437.33 377.59,437.41 377.99,437.49 378.40,437.56 378.80,437.64 379.20,437.71 379.61,437.78 380.01,437.85 380.41,437.92 380.82,437.98 381.22,438.04 381.62,438.10 382.03,438.16 382.43,438.22 382.83,438.28 383.24,438.33 383.64,438.39 384.04,438.44 384.45,438.49 384.85,438.54 385.25,438.58 385.66,438.63 386.06,438.68 386.46,438.72 386.87,438.76 387.27,438.81 387.67,438.85 388.08,438.89 388.48,438.93 388.88,438.96 389.29,439.00 389.69,439.04 390.09,439.07 390.50,439.11 390.90,439.14 391.30,439.17 391.71,439.21 392.11,439.24 392.51,439.27 392.92,439.30 393.32,439.33 393.72,439.36 394.13,439.39 394.53,439.41 394.93,439.44 395.34,439.47 395.74,439.49 396.14,439.52 396.55,439.54 396.95,439.57 397.35,439.59 397.76,439.61 398.16,439.64 398.56,439.66 398.97,439.68 399.37,439.70 399.77,439.72 400.18,439.74 400.58,439.76 400.98,439.78 401.39,439.80 401.79,439.82 402.19,439.84 402.60,439.86 403.00,439.88" fill="none" stroke="#7CAF74" stroke-width="1.25" stroke-linejoin="round"/>
<polyline points="282.00,442.37 282.40,442.36 282.81,442.34 283.21,442.33 283.61,442.32 284.02,442.31 284.42,442.30 284.82,442.29 285.23,442.27 285.63,442.26 286.03,442.25 286.44,442.23 286.84,442.22 287.24,442.21 287.65,442.19 288.05,442.18 288.45,442.16 288.86,442.15 289.26,442.13 289.66,442.12 290.07,442.10 290.47,442.09 290.87,442.07 291.28,442.05 291.68,442.04 292.08,442.02 292.49,442.00 292.89,441.98 293.29,441.96 293.70,441.94 294.10,441.92 294.50,441.90 294.91,441.88 295.31,441.86 295.71,441.84 296.12,441.82 296.52,441.79 296.92,441.77 297.33,441.75 297.73,441.72 298.13,441.70 298.54,441.67 298.94,441.64 299.34,441.62 299.75,441.59 300.15,441.56 300.55,441.53 300.96,441.50 301.36,441.47 301.76,441.44 302.17,441.40 302.57,441.37 302.97,441.34 303.38,441.30 303.78,441.26 304.18,441.23 304.59,441.19 304.99,441.15 305.39,441.11 305.80,441.06 306.20,441.02 306.60,440.98 307.01,440.93 307.41,440.88 307.81,440.83 308.22,440.78 308.62,440.73 309.02,440.68 309.43,440.62 309.83,440.57 310.23,440.51 310.64,440.45 311.04,440.38 311.44,440.32 311.85,440.25 312.25,440.18 312.65,440.11 313.06,440.04 313.46,439.96 313.86,439.88 314.27,439.80 314.67,439.71 315.07,439.62 315.48,439.53 315.88,439.44 316.28,439.34 316.69,439.24 317.09,439.13 317.49,439.02 317.90,438.91 318.30,438.79 318.70,438.67 319.11,438.54 319.51,438.41 319.91,438.27 320.32,438.13 320.72,437.98 321.12,437.83 321.53,437.66 321.93,437.50 322.33,437.32 322.74,437.14 323.14,436.95 323.54,436.75 323.95,436.55 324.35,436.33 324.75,436.11 325.16,435.88 325.56,435.63 325.96,435.38 326.37,435.12 326.77,434.84 327.17,434.55 327.58,434.25 327.98,433.94 328.38,433.61 328.79,433.27 329.19,432.91 329.59,432.53 330.00,432.11 330.40,431.65 330.80,431.10 331.21,430.44 331.61,429.60 332.01,428.49 332.42,427.02 332.82,425.08 333.22,422.55 333.63,419.33 334.03,415.34 334.43,410.56 334.84,404.99 335.24,398.74 335.64,391.93 336.05,384.75 336.45,377.41 336.85,370.15 337.26,363.17 337.66,356.67 338.06,350.79 338.47,345.63 338.87,341.25 339.27,337.65 339.68,334.80 340.08,332.64 340.48,331.08 340.89,330.03 341.29,329.37 341.69,329.01 342.10,328.85 342.50,328.82 342.90,328.85 343.31,329.01 343.71,329.37 344.11,330.03 344.52,331.08 344.92,332.64 345.32,334.80 345.73,337.65 346.13,341.25 346.53,345.63 346.94,350.79 347.34,356.67 347.74,363.17 348.15,370.15 348.55,377.41 348.95,384.75 349.36,391.93 349.76,398.74 350.16,404.99 350.57,410.56 350.97,415.34 351.37,419.33 351.78,422.55 352.18,425.08 352.58,427.02 352.99,428.49 353.39,429.60 353.79,430.44 354.20,431.10 354.60,431.65 355.00,432.11 355.41,432.53 355.81,432.91 356.21,433.27 356.62,433.61 357.02,433.94 357.42,434.25 357.83,434.55 358.23,434.84 358.63,435.12 359.04,435.38 359.44,435.63 359.84,435.88 360.25,436.11 360.65,436.33 361.05,436.55 361.46,436.75 361.86,436.95 362.26,437.14 362.67,437.32 363.07,437.50 363.47,437.66 363.88,437.83 364.28,437.98 364.68,438.13 365.09,438.27 365.49,438.41 365.89,438.54 366.30,438.67 366.70,438.79 367.10,438.91 367.51,439.02 367.91,439.13 368.31,439.24 368.72,439.34 369.12,439.44 369.52,439.53 369.93,439.62 370.33,439.71 370.73,439.80 371.14,439.88 371.54,439.96 371.94,440.04 372.35,440.11 372.75,440.18 373.15,440.25 373.56,440.32 373.96,440.38 374.36,440.45 374.77,440.51 375.17,440.57 375.57,440.62 375.98,440.68 376.38,440.73 376.78,440.78 377.19,440.83 377.59,440.88 377.99,440.93 378.40,440.98 378.80,441.02 379.20,441.06 379.61,441.11 380.01,441.15 380.41,441.19 380.82,441.23 381.22,441.26 381.62,441.30 382.03,441.34 382.43,441.37 382.83,441.40 383.24,441.44 383.64,441.47 384.04,441.50 384.45,441.53 384.85,441.56 385.25,441.59 385.66,441.62 386.06,441.64 386.46,441.67 386.87,441.70 387.27,441.72 387.67,441.75 388.08,441.77 388.48,441.79 388.88,441.82 389.29,441.84 389.69,441.86 390.09,441.88 390.50,441.90 390.90,441.92 391.30,441.94 391.71,441.96 392.11,441.98 392.51,442.00 392.92,442.02 393.32,442.04 393.72,442.05 394.13,442.07 394.53,442.09 394.93,442.10 395.34,442.12 395.74,442.13 396.14,442.15 396.55,442.16 396.95,442.18 397.35,442.19 397.76,442.21 398.16,442.22 398.56,442.23 398.97,442.25 399.37,442.26 399.77,442.27 400.18,442.29 400.58,442.30 400.98,442.31 401.39,442.32 401.79,442.33 402.19,442.34 402.60,442.36 403.00,442.37" fill="none" stroke="#DE6A2A" stroke-width="1.25" stroke-linejoin="round"/>
<polyline points="282.00,444.03 282.40,444.03 282.81,444.02 283.21,444.02 283.61,444.02 284.02,444.01 284.42,444.01 284.82,444.00 285.23,444.00 285.63,443.99 286.03,443.99 286.44,443.98 286.84,443.98 287.24,443.98 287.65,443.97 288.05,443.97 288.45,443.96 288.86,443.96 289.26,443.95 289.66,443.95 290.07,443.94 290.47,443.93 290.87,443.93 291.28,443.92 291.68,443.92 292.08,443.91 292.49,443.91 292.89,443.90 293.29,443.89 293.70,443.89 294.10,443.88 294.50,443.87 294.91,443.87 295.31,443.86 295.71,443.85 296.12,443.85 296.52,443.84 296.92,443.83 297.33,443.83 297.73,443.82 298.13,443.81 298.54,443.80 298.94,443.79 299.34,443.79 299.75,443.78 300.15,443.77 300.55,443.76 300.96,443.75 301.36,443.74 301.76,443.73 302.17,443.72 302.57,443.71 302.97,443.70 303.38,443.69 303.78,443.68 304.18,443.67 304.59,443.66 304.99,443.65 305.39,443.64 305.80,443.63 306.20,443.62 306.60,443.60 307.01,443.59 307.41,443.58 307.81,443.57 308.22,443.55 308.62,443.54 309.02,443.53 309.43,443.51 309.83,443.50 310.23,443.48 310.64,443.47 311.04,443.45 311.44,443.44 311.85,443.42 312.25,443.41 312.65,443.39 313.06,443.37 313.46,443.36 313.86,443.34 314.27,443.32 314.67,443.30 315.07,443.28 315.48,443.26 315.88,443.25 316.28,443.23 316.69,443.21 317.09,443.18 317.49,443.16 317.90,443.14 318.30,443.12 318.70,443.10 319.11,443.07 319.51,443.05 319.91,443.02 320.32,443.00 320.72,442.97 321.12,442.94 321.53,442.91 321.93,442.87 322.33,442.84 322.74,442.80 323.14,442.75 323.54,442.70 323.95,442.64 324.35,442.58 324.75,442.50 325.16,442.41 325.56,442.31 325.96,442.19 326.37,442.05 326.77,441.88 327.17,441.68 327.58,441.45 327.98,441.18 328.38,440.86 328.79,440.49 329.19,440.05 329.59,439.56 330.00,438.98 330.40,438.33 330.80,437.59 331.21,436.75 331.61,435.81 332.01,434.75 332.42,433.59 332.82,432.31 333.22,430.91 333.63,429.39 334.03,427.76 334.43,426.02 334.84,424.17 335.24,422.23 335.64,420.20 336.05,418.11 336.45,415.97 336.85,413.81 337.26,411.63 337.66,409.48 338.06,407.37 338.47,405.33 338.87,403.39 339.27,401.58 339.68,399.91 340.08,398.42 340.48,397.12 340.89,396.03 341.29,395.18 341.69,394.57 342.10,394.20 342.50,394.08 342.90,394.20 343.31,394.57 343.71,395.18 344.11,396.03 344.52,397.12 344.92,398.42 345.32,399.91 345.73,401.58 346.13,403.39 346.53,405.33 346.94,407.37 347.34,409.48 347.74,411.63 348.15,413.81 348.55,415.97 348.95,418.11 349.36,420.20 349.76,422.23 350.16,424.17 350.57,426.02 350.97,427.76 351.37,429.39 351.78,430.91 352.18,432.31 352.58,433.59 352.99,434.75 353.39,435.81 353.79,436.75 354.20,437.59 354.60,438.33 355.00,438.98 355.41,439.56 355.81,440.05 356.21,440.49 356.62,440.86 357.02,441.18 357.42,441.45 357.83,441.68 358.23,441.88 358.63,442.05 359.04,442.19 359.44,442.31 359.84,442.41 360.25,442.50 360.65,442.58 361.05,442.64 361.46,442.70 361.86,442.75 362.26,442.80 362.67,442.84 363.07,442.87 363.47,442.91 363.88,442.94 364.28,442.97 364.68,443.00 365.09,443.02 365.49,443.05 365.89,443.07 366.30,443.10 366.70,443.12 367.10,443.14 367.51,443.16 367.91,443.18 368.31,443.21 368.72,443.23 369.12,443.25 369.52,443.26 369.93,443.28 370.33,443.30 370.73,443.32 371.14,443.34 371.54,443.36 371.94,443.37 372.35,443.39 372.75,443.41 373.15,443.42 373.56,443.44 373.96,443.45 374.36,443.47 374.77,443.48 375.17,443.50 375.57,443.51 375.98,443.53 376.38,443.54 376.78,443.55 377.19,443.57 377.59,443.58 377.99,443.59 378.40,443.60 378.80,443.62 379.20,443.63 379.61,443.64 380.01,443.65 380.41,443.66 380.82,443.67 381.22,443.68 381.62,443.69 382.03,443.70 382.43,443.71 382.83,443.72 383.24,443.73 383.64,443.74 384.04,443.75 384.45,443.76 384.85,443.77 385.25,443.78 385.66,443.79 386.06,443.79 386.46,443.80 386.87,443.81 387.27,443.82 387.67,443.83 388.08,443.83 388.48,443.84 388.88,443.85 389.29,443.85 389.69,443.86 390.09,443.87 390.50,443.87 390.90,443.88 391.30,443.89 391.71,443.89 392.11,443.90 392.51,443.91 392.92,443.91 393.32,443.92 393.72,443.92 394.13,443.93 394.53,443.93 394.93,443.94 395.34,443.95 395.74,443.95 396.14,443.96 396.55,443.96 396.95,443.97 397.35,443.97 397.76,443.98 398.16,443.98 398.56,443.98 398.97,443.99 399.37,443.99 399.77,444.00 400.18,444.00 400.58,444.01 400.98,444.01 401.39,444.02 401.79,444.02 402.19,444.02 402.60,444.03 403.00,444.03" fill="none" stroke="#4A70C8" stroke-width="1.25" stroke-linejoin="round"/>
<line x1="379.40" y1="339.40" x2="389.80" y2="339.40" stroke="#DE6A2A" stroke-width="1.3"/>
<text x="392.80" y="341.20" font-size="5.49" text-anchor="start" fill="#222" stroke="#222" stroke-width="0.22" textLength="11.80" lengthAdjust="spacingAndGlyphs">Oct1</text>
<line x1="379.40" y1="349.75" x2="389.80" y2="349.75" stroke="#7CAF74" stroke-width="1.3"/>
<text x="392.80" y="351.55" font-size="5.49" text-anchor="start" fill="#222" stroke="#222" stroke-width="0.22" textLength="11.80" lengthAdjust="spacingAndGlyphs">Oct2</text>
<line x1="379.40" y1="360.10" x2="389.80" y2="360.10" stroke="#4A70C8" stroke-width="1.3"/>
<text x="392.80" y="361.90" font-size="5.49" text-anchor="start" fill="#222" stroke="#222" stroke-width="0.22" textLength="13.50" lengthAdjust="spacingAndGlyphs">OBF1</text>
<text x="81.00" y="514.20" font-size="6.9" text-anchor="start" fill="#222" stroke="#222" stroke-width="0.22" textLength="12.40" lengthAdjust="spacingAndGlyphs">2 kb</text>
<line x1="96.60" y1="511.60" x2="139.50" y2="511.60" stroke="#444" stroke-width="0.7"/>
<line x1="96.60" y1="510.10" x2="96.60" y2="513.10" stroke="#444" stroke-width="0.7"/>
<line x1="139.50" y1="510.10" x2="139.50" y2="513.10" stroke="#444" stroke-width="0.7"/>
<text x="142.80" y="514.20" font-size="6.9" text-anchor="start" fill="#222" stroke="#222" stroke-width="0.22" textLength="14.00" lengthAdjust="spacingAndGlyphs">mm9</text>
<text x="60.00" y="525.10" font-size="7.04" text-anchor="start" fill="#222" stroke="#222" stroke-width="0.22" font-style="italic" textLength="27.50" lengthAdjust="spacingAndGlyphs">Gadd45a</text>
<line x1="107.00" y1="522.70" x2="127.00" y2="522.70" stroke="#9a9a9a" stroke-width="0.9"/>
<line x1="132.00" y1="522.70" x2="139.00" y2="522.70" stroke="#333" stroke-width="0.7"/>
<rect x="93.5" y="521.6" width="13.6" height="2.3" fill="#111"/>
<circle cx="107.0" cy="522.7" r="1.3" fill="#111"/>
<rect x="126.9" y="521.5" width="5.2" height="2.5" rx="1.2" fill="#111"/>
<circle cx="135.5" cy="522.7" r="1.15" fill="#111"/>
<path d="M139.1 523.2 V519.2 H142.9 V521.8 M141.3 522.6 H143.2" fill="none" stroke="#111" stroke-width="1.0"/>
<text x="19.20" y="538.60" font-size="7.18" text-anchor="start" fill="#222" stroke="#222" stroke-width="0.22" textLength="14.60" lengthAdjust="spacingAndGlyphs">Oct2</text>
<text x="19.20" y="551.20" font-size="7.18" text-anchor="start" fill="#222" stroke="#222" stroke-width="0.22" textLength="16.60" lengthAdjust="spacingAndGlyphs">OBF1</text>
<text x="19.20" y="564.00" font-size="7.18" text-anchor="start" fill="#222" stroke="#222" stroke-width="0.22" textLength="14.30" lengthAdjust="spacingAndGlyphs">Oct1</text>
<line x1="44.20" y1="540.30" x2="192.60" y2="540.30" stroke="#E27AAE" stroke-width="0.6"/>
<rect x="169.3" y="539.41" width="1.8" height="0.89" fill="#D84A90"/>
<rect x="91.8" y="539.66" width="1.5" height="0.64" fill="#D84A90"/>
<rect x="92.4" y="539.59" width="1.0" height="0.71" fill="#D84A90"/>
<rect x="96.6" y="539.60" width="2.3" height="0.70" fill="#D84A90"/>
<rect x="45.9" y="539.89" width="1.0" height="0.41" fill="#D84A90"/>
<rect x="92.3" y="539.60" width="1.1" height="0.70" fill="#D84A90"/>
<rect x="77.7" y="539.76" width="1.5" height="0.54" fill="#D84A90"/>
<rect x="192.2" y="539.97" width="1.6" height="0.33" fill="#D84A90"/>
<rect x="189.7" y="539.98" width="2.5" height="0.32" fill="#D84A90"/>
<rect x="172.7" y="539.45" width="1.9" height="0.85" fill="#D84A90"/>
<rect x="136.7" y="539.52" width="1.9" height="0.78" fill="#D84A90"/>
<rect x="49.5" y="539.93" width="1.0" height="0.37" fill="#D84A90"/>
<rect x="46.2" y="539.98" width="1.2" height="0.32" fill="#D84A90"/>
<rect x="61.0" y="539.90" width="1.4" height="0.40" fill="#D84A90"/>
<rect x="53.2" y="539.45" width="2.4" height="0.85" fill="#D84A90"/>
<rect x="178.0" y="539.65" width="0.9" height="0.65" fill="#D84A90"/>
<rect x="182.5" y="539.69" width="1.5" height="0.61" fill="#D84A90"/>
<rect x="175.6" y="539.65" width="2.4" height="0.65" fill="#D84A90"/>
<rect x="84.9" y="539.56" width="2.1" height="0.74" fill="#D84A90"/>
<rect x="86.8" y="539.58" width="1.6" height="0.72" fill="#D84A90"/>
<rect x="77.1" y="539.67" width="1.5" height="0.63" fill="#D84A90"/>
<rect x="98.6" y="539.82" width="2.3" height="0.48" fill="#D84A90"/>
<rect x="115.1" y="539.98" width="2.2" height="0.32" fill="#D84A90"/>
<rect x="93.7" y="539.67" width="1.1" height="0.63" fill="#D84A90"/>
<rect x="188.1" y="539.45" width="1.5" height="0.85" fill="#D84A90"/>
<rect x="68.3" y="539.81" width="2.4" height="0.49" fill="#D84A90"/>
<rect x="92.5" y="539.47" width="1.3" height="0.83" fill="#D84A90"/>
<rect x="76.3" y="539.99" width="0.9" height="0.31" fill="#D84A90"/>
<rect x="126.0" y="539.79" width="1.8" height="0.51" fill="#D84A90"/>
<rect x="141.8" y="539.50" width="1.7" height="0.80" fill="#D84A90"/>
<rect x="96.8" y="539.69" width="2.1" height="0.61" fill="#D84A90"/>
<rect x="191.0" y="539.44" width="2.0" height="0.86" fill="#D84A90"/>
<rect x="106.0" y="539.92" width="1.9" height="0.38" fill="#D84A90"/>
<rect x="74.2" y="539.83" width="1.8" height="0.47" fill="#D84A90"/>
<rect x="168.7" y="539.49" width="1.0" height="0.81" fill="#D84A90"/>
<rect x="181.0" y="539.84" width="2.5" height="0.46" fill="#D84A90"/>
<rect x="137.8" y="539.58" width="1.9" height="0.72" fill="#D84A90"/>
<rect x="105.5" y="539.75" width="1.0" height="0.55" fill="#D84A90"/>
<rect x="125.8" y="539.76" width="1.0" height="0.54" fill="#D84A90"/>
<rect x="191.5" y="539.49" width="1.1" height="0.81" fill="#D84A90"/>
<line x1="44.20" y1="553.20" x2="192.60" y2="553.20" stroke="#C88ADA" stroke-width="0.6"/>
<rect x="85.6" y="552.83" width="1.9" height="0.37" fill="#B060C8"/>
<rect x="170.6" y="552.73" width="2.0" height="0.47" fill="#B060C8"/>
<rect x="96.5" y="552.58" width="1.4" height="0.62" fill="#B060C8"/>
<rect x="132.6" y="552.90" width="1.9" height="0.30" fill="#B060C8"/>
<rect x="154.9" y="552.67" width="2.5" height="0.53" fill="#B060C8"/>
<rect x="88.7" y="552.42" width="1.7" height="0.78" fill="#B060C8"/>
<rect x="108.8" y="552.76" width="1.4" height="0.44" fill="#B060C8"/>
<rect x="166.1" y="552.32" width="1.4" height="0.88" fill="#B060C8"/>
<rect x="134.4" y="552.70" width="1.2" height="0.50" fill="#B060C8"/>
<rect x="188.5" y="552.33" width="2.3" height="0.87" fill="#B060C8"/>
<rect x="48.0" y="552.36" width="1.2" height="0.84" fill="#B060C8"/>
<rect x="88.7" y="552.71" width="1.7" height="0.49" fill="#B060C8"/>
<rect x="136.2" y="552.40" width="1.5" height="0.80" fill="#B060C8"/>
<rect x="152.1" y="552.62" width="1.5" height="0.58" fill="#B060C8"/>
<rect x="50.2" y="552.63" width="1.9" height="0.57" fill="#B060C8"/>
<rect x="45.7" y="552.76" width="0.9" height="0.44" fill="#B060C8"/>
<rect x="105.0" y="552.51" width="1.7" height="0.69" fill="#B060C8"/>
<rect x="182.0" y="552.79" width="1.1" height="0.41" fill="#B060C8"/>
<rect x="106.7" y="552.44" width="1.5" height="0.76" fill="#B060C8"/>
<rect x="177.6" y="552.49" width="1.8" height="0.71" fill="#B060C8"/>
<rect x="155.0" y="552.68" width="1.0" height="0.52" fill="#B060C8"/>
<rect x="98.6" y="552.71" width="0.9" height="0.49" fill="#B060C8"/>
<rect x="70.3" y="552.72" width="1.9" height="0.48" fill="#B060C8"/>
<rect x="95.2" y="552.59" width="2.4" height="0.61" fill="#B060C8"/>
<rect x="188.3" y="552.59" width="1.9" height="0.61" fill="#B060C8"/>
<rect x="165.3" y="552.36" width="1.2" height="0.84" fill="#B060C8"/>
<rect x="105.4" y="552.56" width="0.9" height="0.64" fill="#B060C8"/>
<rect x="60.0" y="552.52" width="1.8" height="0.68" fill="#B060C8"/>
<rect x="151.5" y="552.89" width="2.0" height="0.31" fill="#B060C8"/>
<rect x="44.6" y="552.57" width="2.0" height="0.63" fill="#B060C8"/>
<line x1="44.20" y1="566.10" x2="192.60" y2="566.10" stroke="#D2DDEA" stroke-width="1.3"/>
<rect x="180.3" y="565.74" width="1.5" height="0.36" fill="#A8BCD6"/>
<rect x="46.5" y="565.69" width="0.9" height="0.41" fill="#A8BCD6"/>
<rect x="158.3" y="565.28" width="1.8" height="0.82" fill="#A8BCD6"/>
<rect x="177.1" y="565.71" width="1.7" height="0.39" fill="#A8BCD6"/>
<rect x="73.7" y="565.71" width="1.8" height="0.39" fill="#A8BCD6"/>
<rect x="121.1" y="565.78" width="1.7" height="0.32" fill="#A8BCD6"/>
<polygon points="136.50,540.40 139.00,539.20 140.80,538.00 141.00,535.00 143.00,534.00 143.20,532.10 147.00,532.10 147.30,534.20 148.10,534.50 148.30,536.80 151.00,538.20 154.20,540.40" fill="#C8106E"/>
<polygon points="140.50,553.30 142.70,552.80 142.90,547.50 144.60,547.30 144.80,546.00 146.20,545.30 147.60,545.60 147.90,553.00 149.00,553.30" fill="#8A16A8"/>
<polygon points="140.30,565.80 142.30,565.50 142.50,560.30 144.50,560.00 144.80,557.50 146.20,556.80 147.60,557.30 147.90,565.50 150.00,565.80" fill="#4A6FA0"/>
<polygon points="54.00,540.30 58.00,539.70 62.00,540.30" fill="#C8106E"/>
<polygon points="100.00,540.30 104.00,539.40 108.00,538.90 114.00,538.70 119.00,539.30 123.00,540.30" fill="#D04A8C"/>
<polygon points="108.00,566.00 110.00,565.20 114.00,565.20 116.00,566.00" fill="#A8BCD6"/>
<text x="73.60" y="584.20" font-size="6.9" text-anchor="start" fill="#222" stroke="#222" stroke-width="0.22" textLength="16.20" lengthAdjust="spacingAndGlyphs">20 kb</text>
<line x1="93.20" y1="581.50" x2="143.50" y2="581.50" stroke="#444" stroke-width="0.7"/>
<line x1="93.20" y1="580.00" x2="93.20" y2="583.00" stroke="#444" stroke-width="0.7"/>
<line x1="143.50" y1="580.00" x2="143.50" y2="583.00" stroke="#444" stroke-width="0.7"/>
<text x="145.60" y="584.20" font-size="6.9" text-anchor="start" fill="#222" stroke="#222" stroke-width="0.22" textLength="15.20" lengthAdjust="spacingAndGlyphs">mm9</text>
<text x="42.00" y="593.80" font-size="6.62" text-anchor="start" fill="#222" stroke="#222" stroke-width="0.22" font-style="italic" textLength="13.90" lengthAdjust="spacingAndGlyphs">Sykb</text>
<path d="M59.5 595.2 V590.8 H62.6" fill="none" stroke="#111" stroke-width="0.7"/>
<rect x="61.6" y="590.2" width="1.6" height="1.3" fill="#111"/>
<line x1="59.50" y1="593.50" x2="188.00" y2="593.50" stroke="#777" stroke-width="0.7"/>
<path d="M93.0 593.5 L93.8 591.6 L94.6 593.5 L93.8 595.4 Z" fill="#111"/>
<rect x="96.8" y="592.0" width="0.6" height="3.0" fill="#222"/>
<rect x="118.1" y="592.0" width="0.6" height="3.0" fill="#222"/>
<rect x="123.6" y="592.0" width="0.6" height="3.0" fill="#222"/>
<rect x="125.2" y="592.0" width="0.6" height="3.0" fill="#222"/>
<rect x="128.1" y="592.0" width="0.6" height="3.0" fill="#222"/>
<rect x="145.2" y="592.0" width="0.6" height="3.0" fill="#222"/>
<rect x="148.5" y="592.0" width="0.6" height="3.0" fill="#222"/>
<rect x="161.3" y="592.0" width="0.6" height="3.0" fill="#222"/>
<rect x="166.6" y="592.0" width="0.8" height="3.0" fill="#222"/>
<rect x="168.6" y="592.0" width="0.8" height="3.0" fill="#222"/>
<rect x="170.6" y="592.0" width="0.8" height="3.0" fill="#222"/>
<rect x="173.2" y="592.0" width="0.6" height="3.0" fill="#222"/>
<rect x="179.8" y="592.3" width="8.1" height="2.4" fill="#111"/>
<text x="19.20" y="608.20" font-size="7.18" text-anchor="start" fill="#222" stroke="#222" stroke-width="0.22" textLength="14.60" lengthAdjust="spacingAndGlyphs">Oct2</text>
<text x="19.20" y="620.80" font-size="7.18" text-anchor="start" fill="#222" stroke="#222" stroke-width="0.22" textLength="16.60" lengthAdjust="spacingAndGlyphs">OBF1</text>
<text x="19.20" y="633.60" font-size="7.18" text-anchor="start" fill="#222" stroke="#222" stroke-width="0.22" textLength="14.30" lengthAdjust="spacingAndGlyphs">Oct1</text>
<line x1="44.20" y1="609.80" x2="192.60" y2="609.80" stroke="#E27AAE" stroke-width="0.6"/>
<rect x="55.5" y="609.21" width="2.4" height="0.59" fill="#D84A90"/>
<rect x="113.6" y="609.02" width="1.5" height="0.78" fill="#D84A90"/>
<rect x="140.7" y="609.15" width="2.0" height="0.65" fill="#D84A90"/>
<rect x="65.6" y="609.33" width="1.2" height="0.47" fill="#D84A90"/>
<rect x="49.1" y="608.98" width="1.9" height="0.82" fill="#D84A90"/>
<rect x="184.8" y="609.39" width="0.9" height="0.41" fill="#D84A90"/>
<rect x="136.8" y="609.37" width="0.8" height="0.43" fill="#D84A90"/>
<rect x="103.0" y="609.47" width="2.1" height="0.33" fill="#D84A90"/>
<rect x="52.3" y="609.37" width="1.2" height="0.43" fill="#D84A90"/>
<rect x="67.9" y="609.40" width="1.8" height="0.40" fill="#D84A90"/>
<rect x="45.1" y="609.23" width="2.3" height="0.57" fill="#D84A90"/>
<rect x="106.3" y="608.97" width="1.2" height="0.83" fill="#D84A90"/>
<rect x="189.6" y="609.09" width="0.9" height="0.71" fill="#D84A90"/>
<rect x="144.4" y="609.25" width="1.8" height="0.55" fill="#D84A90"/>
<rect x="103.4" y="609.49" width="2.0" height="0.31" fill="#D84A90"/>
<rect x="173.0" y="609.40" width="0.9" height="0.40" fill="#D84A90"/>
<rect x="100.4" y="608.97" width="0.8" height="0.83" fill="#D84A90"/>
<rect x="103.0" y="609.30" width="1.4" height="0.50" fill="#D84A90"/>
<rect x="173.5" y="609.11" width="1.4" height="0.69" fill="#D84A90"/>
<rect x="186.8" y="608.95" width="1.5" height="0.85" fill="#D84A90"/>
<rect x="126.4" y="609.22" width="1.5" height="0.58" fill="#D84A90"/>
<rect x="95.3" y="609.33" width="1.5" height="0.47" fill="#D84A90"/>
<rect x="48.0" y="609.35" width="2.2" height="0.45" fill="#D84A90"/>
<rect x="63.5" y="609.17" width="1.1" height="0.63" fill="#D84A90"/>
<rect x="161.1" y="609.22" width="1.7" height="0.58" fill="#D84A90"/>
<rect x="162.2" y="609.28" width="1.2" height="0.52" fill="#D84A90"/>
<rect x="76.3" y="609.12" width="1.5" height="0.68" fill="#D84A90"/>
<rect x="130.4" y="609.21" width="1.3" height="0.59" fill="#D84A90"/>
<rect x="74.5" y="609.09" width="2.3" height="0.71" fill="#D84A90"/>
<rect x="184.0" y="609.14" width="2.5" height="0.66" fill="#D84A90"/>
<rect x="109.5" y="609.18" width="2.5" height="0.62" fill="#D84A90"/>
<rect x="104.2" y="609.42" width="1.7" height="0.38" fill="#D84A90"/>
<rect x="155.6" y="609.45" width="2.0" height="0.35" fill="#D84A90"/>
<rect x="170.6" y="609.04" width="2.1" height="0.76" fill="#D84A90"/>
<rect x="48.5" y="609.41" width="2.0" height="0.39" fill="#D84A90"/>
<rect x="46.4" y="609.08" width="2.0" height="0.72" fill="#D84A90"/>
<rect x="159.4" y="609.39" width="1.2" height="0.41" fill="#D84A90"/>
<rect x="176.5" y="608.95" width="0.9" height="0.85" fill="#D84A90"/>
<rect x="163.7" y="609.38" width="2.1" height="0.42" fill="#D84A90"/>
<rect x="150.9" y="609.33" width="0.9" height="0.47" fill="#D84A90"/>
<rect x="165.4" y="609.29" width="1.5" height="0.51" fill="#D84A90"/>
<rect x="169.5" y="609.12" width="1.6" height="0.68" fill="#D84A90"/>
<rect x="137.5" y="608.94" width="2.3" height="0.86" fill="#D84A90"/>
<rect x="70.4" y="609.02" width="1.4" height="0.78" fill="#D84A90"/>
<rect x="146.7" y="609.48" width="2.3" height="0.32" fill="#D84A90"/>
<line x1="44.20" y1="622.40" x2="192.60" y2="622.40" stroke="#C88ADA" stroke-width="0.6"/>
<rect x="148.6" y="621.50" width="1.6" height="0.90" fill="#B060C8"/>
<rect x="103.6" y="622.04" width="2.3" height="0.36" fill="#B060C8"/>
<rect x="87.5" y="621.73" width="1.3" height="0.67" fill="#B060C8"/>
<rect x="76.7" y="621.86" width="2.0" height="0.54" fill="#B060C8"/>
<rect x="134.5" y="621.65" width="1.5" height="0.75" fill="#B060C8"/>
<rect x="67.4" y="621.77" width="2.1" height="0.63" fill="#B060C8"/>
<rect x="137.6" y="621.76" width="2.4" height="0.64" fill="#B060C8"/>
<rect x="78.0" y="621.79" width="1.6" height="0.61" fill="#B060C8"/>
<rect x="181.6" y="621.75" width="1.9" height="0.65" fill="#B060C8"/>
<rect x="183.1" y="621.64" width="1.0" height="0.76" fill="#B060C8"/>
<rect x="141.5" y="621.57" width="2.3" height="0.83" fill="#B060C8"/>
<rect x="131.0" y="621.52" width="2.0" height="0.88" fill="#B060C8"/>
<rect x="145.3" y="621.91" width="0.9" height="0.49" fill="#B060C8"/>
<rect x="159.5" y="621.55" width="1.4" height="0.85" fill="#B060C8"/>
<rect x="106.1" y="621.50" width="2.1" height="0.90" fill="#B060C8"/>
<rect x="135.5" y="621.78" width="1.2" height="0.62" fill="#B060C8"/>
<rect x="96.0" y="621.83" width="2.4" height="0.57" fill="#B060C8"/>
<rect x="94.7" y="621.69" width="1.7" height="0.71" fill="#B060C8"/>
<rect x="168.7" y="621.79" width="1.9" height="0.61" fill="#B060C8"/>
<rect x="144.6" y="621.70" width="1.2" height="0.70" fill="#B060C8"/>
<rect x="169.8" y="621.81" width="2.1" height="0.59" fill="#B060C8"/>
<rect x="72.3" y="621.60" width="2.4" height="0.80" fill="#B060C8"/>
<rect x="127.2" y="622.00" width="1.1" height="0.40" fill="#B060C8"/>
<rect x="160.1" y="621.94" width="1.2" height="0.46" fill="#B060C8"/>
<rect x="187.2" y="621.89" width="1.1" height="0.51" fill="#B060C8"/>
<rect x="57.9" y="622.02" width="1.9" height="0.38" fill="#B060C8"/>
<rect x="146.0" y="621.81" width="1.6" height="0.59" fill="#B060C8"/>
<rect x="148.9" y="621.69" width="0.8" height="0.71" fill="#B060C8"/>
<rect x="64.0" y="621.68" width="1.9" height="0.72" fill="#B060C8"/>
<rect x="64.0" y="621.75" width="2.0" height="0.65" fill="#B060C8"/>
<rect x="79.9" y="622.03" width="1.9" height="0.37" fill="#B060C8"/>
<rect x="107.2" y="621.69" width="2.4" height="0.71" fill="#B060C8"/>
<rect x="67.2" y="621.60" width="2.5" height="0.80" fill="#B060C8"/>
<rect x="104.5" y="621.69" width="1.2" height="0.71" fill="#B060C8"/>
<rect x="46.0" y="622.07" width="1.6" height="0.33" fill="#B060C8"/>
<line x1="44.20" y1="635.40" x2="192.60" y2="635.40" stroke="#C6D4E4" stroke-width="0.8"/>
<rect x="177.1" y="635.03" width="1.3" height="0.37" fill="#A8BCD6"/>
<rect x="90.0" y="635.00" width="2.4" height="0.40" fill="#A8BCD6"/>
<rect x="110.2" y="634.93" width="1.8" height="0.47" fill="#A8BCD6"/>
<rect x="126.9" y="634.82" width="0.9" height="0.58" fill="#A8BCD6"/>
<polygon points="66.60,609.80 67.30,601.50 67.90,600.80 68.50,601.50 69.00,609.80" fill="#C8106E"/>
<polygon points="66.70,622.40 67.30,615.80 67.90,615.10 68.50,615.80 69.00,622.40" fill="#8A16A8"/>
<polygon points="66.90,635.40 67.40,630.60 67.90,629.90 68.40,630.60 68.80,635.40" fill="#4A6FA0"/>
<polygon points="155.50,609.80 156.50,607.60 157.50,607.60 158.50,609.80" fill="#C8106E"/>
<rect x="156.5" y="621.3" width="1.2" height="1.1" fill="#8A16A8"/>
<line x1="244.30" y1="524.20" x2="244.30" y2="585.00" stroke="#000" stroke-width="1.1"/>
<line x1="243.80" y1="584.80" x2="303.00" y2="584.80" stroke="#000" stroke-width="1.5"/>
<line x1="241.30" y1="581.80" x2="244.30" y2="581.80" stroke="#000" stroke-width="0.9"/>
<text x="238.40" y="584.20" font-size="6.7" text-anchor="end" fill="#222" stroke="#222" stroke-width="0.22">0</text>
<line x1="241.30" y1="568.06" x2="244.30" y2="568.06" stroke="#000" stroke-width="0.9"/>
<text x="238.40" y="570.46" font-size="6.7" text-anchor="end" fill="#222" stroke="#222" stroke-width="0.22">3</text>
<line x1="241.30" y1="554.32" x2="244.30" y2="554.32" stroke="#000" stroke-width="0.9"/>
<text x="238.40" y="556.72" font-size="6.7" text-anchor="end" fill="#222" stroke="#222" stroke-width="0.22">6</text>
<line x1="241.30" y1="540.58" x2="244.30" y2="540.58" stroke="#000" stroke-width="0.9"/>
<text x="238.40" y="542.98" font-size="6.7" text-anchor="end" fill="#222" stroke="#222" stroke-width="0.22">9</text>
<line x1="241.30" y1="526.84" x2="244.30" y2="526.84" stroke="#000" stroke-width="0.9"/>
<text x="238.40" y="529.24" font-size="6.7" text-anchor="end" fill="#222" stroke="#222" stroke-width="0.22">12</text>
<text transform="translate(224.80,552.70) rotate(-90)" font-size="8.3" text-anchor="middle" fill="#222" stroke="#222" stroke-width="0.22" textLength="51.2" lengthAdjust="spacingAndGlyphs">log2(RPKM + 1)</text>
<polygon points="275.90,581.80 274.29,581.22 270.62,580.65 268.83,580.07 265.91,579.50 265.30,578.92 264.51,578.35 263.92,577.77 263.87,577.20 263.77,576.62 263.65,576.05 263.54,575.47 263.50,574.90 263.52,574.32 263.57,573.75 263.64,573.17 263.71,572.60 263.77,572.02 263.80,571.45 263.81,570.87 263.84,570.30 263.88,569.72 263.94,569.15 264.01,568.57 264.09,568.00 264.16,567.42 264.22,566.85 264.27,566.27 264.29,565.70 264.30,565.12 264.27,564.55 264.22,563.97 264.15,563.40 264.07,562.82 264.00,562.25 263.94,561.67 263.91,561.10 263.90,560.52 263.84,559.95 263.73,559.37 263.59,558.80 263.44,558.22 263.30,557.65 263.18,557.07 263.11,556.50 263.09,555.92 263.01,555.35 262.87,554.77 262.68,554.20 262.50,553.62 262.34,553.05 262.23,552.47 262.20,551.90 262.17,551.32 262.11,550.75 262.04,550.17 261.95,549.60 261.87,549.02 261.80,548.45 261.76,547.87 261.75,547.30 261.74,546.72 261.73,546.15 261.71,545.57 261.68,545.00 261.66,544.42 261.63,543.85 261.60,543.27 261.57,542.70 261.55,542.12 261.53,541.55 261.52,540.97 261.52,540.40 261.52,539.82 261.51,539.25 261.51,538.67 261.50,538.10 261.49,537.52 261.48,536.95 261.47,536.37 261.46,535.80 261.45,535.22 261.44,534.65 261.43,534.07 261.42,533.50 261.41,532.92 261.40,532.35 261.39,531.77 261.38,531.20 261.38,530.62 261.38,530.05 261.22,530.05 261.22,530.62 261.22,531.20 261.21,531.77 261.20,532.35 261.19,532.92 261.18,533.50 261.17,534.07 261.16,534.65 261.15,535.22 261.14,535.80 261.13,536.37 261.12,536.95 261.11,537.52 261.10,538.10 261.09,538.67 261.09,539.25 261.08,539.82 261.08,540.40 261.08,540.97 261.07,541.55 261.05,542.12 261.03,542.70 261.00,543.27 260.97,543.85 260.94,544.42 260.92,545.00 260.89,545.57 260.87,546.15 260.86,546.72 260.85,547.30 260.84,547.87 260.80,548.45 260.73,549.02 260.65,549.60 260.56,550.17 260.49,550.75 260.43,551.32 260.40,551.90 260.37,552.47 260.26,553.05 260.10,553.62 259.92,554.20 259.73,554.77 259.59,555.35 259.51,555.92 259.49,556.50 259.42,557.07 259.30,557.65 259.16,558.22 259.01,558.80 258.87,559.37 258.76,559.95 258.70,560.52 258.69,561.10 258.66,561.67 258.60,562.25 258.53,562.82 258.45,563.40 258.38,563.97 258.33,564.55 258.30,565.12 258.31,565.70 258.33,566.27 258.38,566.85 258.44,567.42 258.51,568.00 258.59,568.57 258.66,569.15 258.72,569.72 258.76,570.30 258.79,570.87 258.80,571.45 258.83,572.02 258.89,572.60 258.96,573.17 259.03,573.75 259.08,574.32 259.10,574.90 259.06,575.47 258.95,576.05 258.83,576.62 258.73,577.20 258.68,577.77 258.09,578.35 257.30,578.92 256.69,579.50 253.77,580.07 251.98,580.65 248.31,581.22 246.70,581.80" fill="#E3705F" stroke="#111" stroke-width="0.6" stroke-linejoin="round"/>
<line x1="261.30" y1="581.80" x2="261.30" y2="552.03" stroke="#222" stroke-width="0.45"/>
<rect x="259.80" y="565.31" width="3.0" height="12.37" fill="none" stroke="#222" stroke-width="0.45"/>
<circle cx="261.3" cy="577.68" r="0.55" fill="#222"/>
<polygon points="297.40,581.80 297.56,581.20 297.70,580.61 297.31,580.01 296.75,579.42 296.57,578.82 296.34,578.23 296.08,577.63 296.01,577.04 296.11,576.44 296.26,575.85 296.38,575.25 296.42,574.66 296.58,574.06 296.84,573.46 297.11,572.87 297.32,572.27 297.40,571.68 297.49,571.08 297.69,570.49 297.96,569.89 298.27,569.30 298.57,568.70 298.82,568.11 298.97,567.51 299.01,566.91 299.06,566.32 299.16,565.72 299.29,565.13 299.42,564.53 299.55,563.94 299.65,563.34 299.70,562.75 299.68,562.15 299.59,561.56 299.45,560.96 299.28,560.37 299.10,559.77 298.95,559.17 298.84,558.58 298.80,557.98 298.72,557.39 298.50,556.79 298.19,556.20 297.85,555.60 297.51,555.01 297.22,554.41 297.04,553.82 296.99,553.22 296.87,552.63 296.63,552.03 296.33,551.43 296.00,550.84 295.69,550.24 295.45,549.65 295.31,549.05 295.29,548.46 295.25,547.86 295.19,547.27 295.11,546.67 295.01,546.08 294.92,545.48 294.82,544.89 294.74,544.29 294.68,543.69 294.65,543.10 294.65,542.50 294.64,541.91 294.62,541.31 294.60,540.72 294.57,540.12 294.54,539.53 294.51,538.93 294.48,538.34 294.46,537.74 294.44,537.14 294.42,536.55 294.42,535.95 294.42,535.36 294.41,534.76 294.40,534.17 294.39,533.57 294.37,532.98 294.36,532.38 294.34,531.79 294.33,531.19 294.31,530.60 294.30,530.00 294.29,529.40 294.28,528.81 294.28,528.21 294.12,528.21 294.12,528.81 294.11,529.40 294.10,530.00 294.09,530.60 294.07,531.19 294.06,531.79 294.04,532.38 294.03,532.98 294.01,533.57 294.00,534.17 293.99,534.76 293.98,535.36 293.98,535.95 293.98,536.55 293.96,537.14 293.94,537.74 293.92,538.34 293.89,538.93 293.86,539.53 293.83,540.12 293.80,540.72 293.78,541.31 293.76,541.91 293.75,542.50 293.75,543.10 293.72,543.69 293.66,544.29 293.58,544.89 293.48,545.48 293.39,546.08 293.29,546.67 293.21,547.27 293.15,547.86 293.11,548.46 293.09,549.05 292.95,549.65 292.71,550.24 292.40,550.84 292.07,551.43 291.77,552.03 291.53,552.63 291.41,553.22 291.36,553.82 291.18,554.41 290.89,555.01 290.55,555.60 290.21,556.20 289.90,556.79 289.68,557.39 289.60,557.98 289.56,558.58 289.45,559.17 289.30,559.77 289.12,560.37 288.95,560.96 288.81,561.56 288.72,562.15 288.70,562.75 288.75,563.34 288.85,563.94 288.98,564.53 289.11,565.13 289.24,565.72 289.34,566.32 289.39,566.91 289.43,567.51 289.58,568.11 289.83,568.70 290.13,569.30 290.44,569.89 290.71,570.49 290.91,571.08 291.00,571.68 291.08,572.27 291.29,572.87 291.56,573.46 291.82,574.06 291.98,574.66 292.02,575.25 292.14,575.85 292.29,576.44 292.39,577.04 292.32,577.63 292.06,578.23 291.83,578.82 291.65,579.42 291.09,580.01 290.70,580.61 290.84,581.20 291.00,581.80" fill="#52B8BE" stroke="#111" stroke-width="0.6" stroke-linejoin="round"/>
<line x1="294.20" y1="579.05" x2="294.20" y2="547.45" stroke="#222" stroke-width="0.45"/>
<rect x="293.00" y="558.90" width="2.4" height="11.45" fill="none" stroke="#222" stroke-width="0.45"/>
<circle cx="294.2" cy="563.94" r="0.55" fill="#222"/>
<line x1="261.00" y1="524.20" x2="294.50" y2="524.20" stroke="#111" stroke-width="1.0"/>
<text x="277.80" y="512.90" font-size="6.2" text-anchor="middle" fill="#111" stroke="#111" stroke-width="0.22" textLength="9.50" lengthAdjust="spacingAndGlyphs">****</text>
<text x="263.2" y="519.6" font-size="6.0" fill="#222" textLength="28.8" lengthAdjust="spacingAndGlyphs"><tspan font-style="italic">P</tspan> &lt; 2.2e-16</text>
<rect x="236.8" y="589.6" width="3.6" height="3.4" fill="#E3705F" stroke="#444" stroke-width="0.4"/>
<rect x="236.8" y="596.9" width="3.6" height="3.4" fill="#4EB5BB" stroke="#444" stroke-width="0.4"/>
<text x="243.50" y="593.10" font-size="5.9" text-anchor="start" fill="#222" stroke="#222" stroke-width="0.22" textLength="66.00" lengthAdjust="spacingAndGlyphs">Genes not bound by OBF1</text>
<text x="243.50" y="600.50" font-size="5.9" text-anchor="start" fill="#222" stroke="#222" stroke-width="0.22" textLength="57.20" lengthAdjust="spacingAndGlyphs">Genes bound by OBF1</text>
<line x1="346.20" y1="524.20" x2="346.20" y2="585.00" stroke="#000" stroke-width="1.1"/>
<line x1="345.70" y1="584.80" x2="405.00" y2="584.80" stroke="#000" stroke-width="1.5"/>
<line x1="343.20" y1="581.80" x2="346.20" y2="581.80" stroke="#000" stroke-width="0.9"/>
<text x="342.80" y="584.20" font-size="6.7" text-anchor="end" fill="#222" stroke="#222" stroke-width="0.22">0</text>
<line x1="343.20" y1="568.06" x2="346.20" y2="568.06" stroke="#000" stroke-width="0.9"/>
<text x="342.80" y="570.46" font-size="6.7" text-anchor="end" fill="#222" stroke="#222" stroke-width="0.22">3</text>
<line x1="343.20" y1="554.32" x2="346.20" y2="554.32" stroke="#000" stroke-width="0.9"/>
<text x="342.80" y="556.72" font-size="6.7" text-anchor="end" fill="#222" stroke="#222" stroke-width="0.22">6</text>
<line x1="343.20" y1="540.58" x2="346.20" y2="540.58" stroke="#000" stroke-width="0.9"/>
<text x="342.80" y="542.98" font-size="6.7" text-anchor="end" fill="#222" stroke="#222" stroke-width="0.22">9</text>
<line x1="343.20" y1="526.84" x2="346.20" y2="526.84" stroke="#000" stroke-width="0.9"/>
<text x="342.80" y="529.24" font-size="6.7" text-anchor="end" fill="#222" stroke="#222" stroke-width="0.22">12</text>
<text transform="translate(326.60,552.70) rotate(-90)" font-size="8.3" text-anchor="middle" fill="#222" stroke="#222" stroke-width="0.22" textLength="51.2" lengthAdjust="spacingAndGlyphs">log2(RPKM + 1)</text>
<polygon points="378.10,581.80 376.49,581.22 372.82,580.65 371.03,580.07 368.11,579.50 367.50,578.92 366.71,578.35 366.12,577.77 366.07,577.20 365.97,576.62 365.85,576.05 365.74,575.47 365.70,574.90 365.72,574.32 365.77,573.75 365.84,573.17 365.91,572.60 365.97,572.02 366.00,571.45 366.01,570.87 366.04,570.30 366.08,569.72 366.14,569.15 366.21,568.57 366.29,568.00 366.36,567.42 366.42,566.85 366.47,566.27 366.49,565.70 366.50,565.12 366.47,564.55 366.42,563.97 366.35,563.40 366.27,562.82 366.20,562.25 366.14,561.67 366.11,561.10 366.10,560.52 366.04,559.95 365.93,559.37 365.79,558.80 365.64,558.22 365.50,557.65 365.38,557.07 365.31,556.50 365.29,555.92 365.21,555.35 365.07,554.77 364.88,554.20 364.70,553.62 364.54,553.05 364.43,552.47 364.40,551.90 364.37,551.32 364.31,550.75 364.24,550.17 364.15,549.60 364.07,549.02 364.00,548.45 363.96,547.87 363.95,547.30 363.94,546.72 363.93,546.15 363.91,545.57 363.88,545.00 363.86,544.42 363.83,543.85 363.80,543.27 363.77,542.70 363.75,542.12 363.73,541.55 363.72,540.97 363.72,540.40 363.72,539.82 363.71,539.25 363.71,538.67 363.70,538.10 363.69,537.52 363.68,536.95 363.67,536.37 363.66,535.80 363.65,535.22 363.64,534.65 363.63,534.07 363.62,533.50 363.61,532.92 363.60,532.35 363.59,531.77 363.58,531.20 363.58,530.62 363.58,530.05 363.42,530.05 363.42,530.62 363.42,531.20 363.41,531.77 363.40,532.35 363.39,532.92 363.38,533.50 363.37,534.07 363.36,534.65 363.35,535.22 363.34,535.80 363.33,536.37 363.32,536.95 363.31,537.52 363.30,538.10 363.29,538.67 363.29,539.25 363.28,539.82 363.28,540.40 363.28,540.97 363.27,541.55 363.25,542.12 363.23,542.70 363.20,543.27 363.17,543.85 363.14,544.42 363.12,545.00 363.09,545.57 363.07,546.15 363.06,546.72 363.05,547.30 363.04,547.87 363.00,548.45 362.93,549.02 362.85,549.60 362.76,550.17 362.69,550.75 362.63,551.32 362.60,551.90 362.57,552.47 362.46,553.05 362.30,553.62 362.12,554.20 361.93,554.77 361.79,555.35 361.71,555.92 361.69,556.50 361.62,557.07 361.50,557.65 361.36,558.22 361.21,558.80 361.07,559.37 360.96,559.95 360.90,560.52 360.89,561.10 360.86,561.67 360.80,562.25 360.73,562.82 360.65,563.40 360.58,563.97 360.53,564.55 360.50,565.12 360.51,565.70 360.53,566.27 360.58,566.85 360.64,567.42 360.71,568.00 360.79,568.57 360.86,569.15 360.92,569.72 360.96,570.30 360.99,570.87 361.00,571.45 361.03,572.02 361.09,572.60 361.16,573.17 361.23,573.75 361.28,574.32 361.30,574.90 361.26,575.47 361.15,576.05 361.03,576.62 360.93,577.20 360.88,577.77 360.29,578.35 359.50,578.92 358.89,579.50 355.97,580.07 354.18,580.65 350.51,581.22 348.90,581.80" fill="#E3705F" stroke="#111" stroke-width="0.6" stroke-linejoin="round"/>
<line x1="363.50" y1="581.80" x2="363.50" y2="552.03" stroke="#222" stroke-width="0.45"/>
<rect x="362.00" y="565.31" width="3.0" height="12.37" fill="none" stroke="#222" stroke-width="0.45"/>
<circle cx="363.5" cy="577.68" r="0.55" fill="#222"/>
<polygon points="400.60,581.80 400.76,581.20 400.90,580.61 400.51,580.01 399.95,579.42 399.77,578.82 399.54,578.23 399.28,577.63 399.21,577.04 399.31,576.44 399.46,575.85 399.58,575.25 399.62,574.66 399.78,574.06 400.04,573.46 400.31,572.87 400.52,572.27 400.60,571.68 400.69,571.08 400.89,570.49 401.16,569.89 401.47,569.30 401.77,568.70 402.02,568.11 402.17,567.51 402.21,566.91 402.26,566.32 402.36,565.72 402.49,565.13 402.62,564.53 402.75,563.94 402.85,563.34 402.90,562.75 402.88,562.15 402.79,561.56 402.65,560.96 402.48,560.37 402.30,559.77 402.15,559.17 402.04,558.58 402.00,557.98 401.92,557.39 401.70,556.79 401.39,556.20 401.05,555.60 400.71,555.01 400.42,554.41 400.24,553.82 400.19,553.22 400.07,552.63 399.83,552.03 399.53,551.43 399.20,550.84 398.89,550.24 398.65,549.65 398.51,549.05 398.49,548.46 398.45,547.86 398.39,547.27 398.31,546.67 398.21,546.08 398.12,545.48 398.02,544.89 397.94,544.29 397.88,543.69 397.85,543.10 397.85,542.50 397.84,541.91 397.82,541.31 397.80,540.72 397.77,540.12 397.74,539.53 397.71,538.93 397.68,538.34 397.66,537.74 397.64,537.14 397.62,536.55 397.62,535.95 397.62,535.36 397.61,534.76 397.60,534.17 397.59,533.57 397.57,532.98 397.56,532.38 397.54,531.79 397.53,531.19 397.51,530.60 397.50,530.00 397.49,529.40 397.48,528.81 397.48,528.21 397.32,528.21 397.32,528.81 397.31,529.40 397.30,530.00 397.29,530.60 397.27,531.19 397.26,531.79 397.24,532.38 397.23,532.98 397.21,533.57 397.20,534.17 397.19,534.76 397.18,535.36 397.18,535.95 397.18,536.55 397.16,537.14 397.14,537.74 397.12,538.34 397.09,538.93 397.06,539.53 397.03,540.12 397.00,540.72 396.98,541.31 396.96,541.91 396.95,542.50 396.95,543.10 396.92,543.69 396.86,544.29 396.78,544.89 396.68,545.48 396.59,546.08 396.49,546.67 396.41,547.27 396.35,547.86 396.31,548.46 396.29,549.05 396.15,549.65 395.91,550.24 395.60,550.84 395.27,551.43 394.97,552.03 394.73,552.63 394.61,553.22 394.56,553.82 394.38,554.41 394.09,555.01 393.75,555.60 393.41,556.20 393.10,556.79 392.88,557.39 392.80,557.98 392.76,558.58 392.65,559.17 392.50,559.77 392.32,560.37 392.15,560.96 392.01,561.56 391.92,562.15 391.90,562.75 391.95,563.34 392.05,563.94 392.18,564.53 392.31,565.13 392.44,565.72 392.54,566.32 392.59,566.91 392.63,567.51 392.78,568.11 393.03,568.70 393.33,569.30 393.64,569.89 393.91,570.49 394.11,571.08 394.20,571.68 394.28,572.27 394.49,572.87 394.76,573.46 395.02,574.06 395.18,574.66 395.22,575.25 395.34,575.85 395.49,576.44 395.59,577.04 395.52,577.63 395.26,578.23 395.03,578.82 394.85,579.42 394.29,580.01 393.90,580.61 394.04,581.20 394.20,581.80" fill="#52B8BE" stroke="#111" stroke-width="0.6" stroke-linejoin="round"/>
<line x1="397.40" y1="579.05" x2="397.40" y2="547.45" stroke="#222" stroke-width="0.45"/>
<rect x="396.20" y="558.90" width="2.4" height="11.45" fill="none" stroke="#222" stroke-width="0.45"/>
<circle cx="397.4" cy="563.94" r="0.55" fill="#222"/>
<line x1="363.20" y1="524.20" x2="397.70" y2="524.20" stroke="#111" stroke-width="1.0"/>
<text x="380.30" y="512.90" font-size="6.2" text-anchor="middle" fill="#111" stroke="#111" stroke-width="0.22" textLength="9.50" lengthAdjust="spacingAndGlyphs">****</text>
<text x="365.8" y="519.6" font-size="6.0" fill="#222" textLength="28.8" lengthAdjust="spacingAndGlyphs"><tspan font-style="italic">P</tspan> &lt; 2.2e-16</text>
<rect x="340.4" y="589.6" width="3.6" height="3.4" fill="#E3705F" stroke="#444" stroke-width="0.4"/>
<rect x="340.4" y="596.9" width="3.6" height="3.4" fill="#4EB5BB" stroke="#444" stroke-width="0.4"/>
<text x="346.80" y="593.10" font-size="5.9" text-anchor="start" fill="#222" stroke="#222" stroke-width="0.22" textLength="64.70" lengthAdjust="spacingAndGlyphs">Genes not bound by Oct1</text>
<text x="346.80" y="600.50" font-size="5.9" text-anchor="start" fill="#222" stroke="#222" stroke-width="0.22" textLength="56.00" lengthAdjust="spacingAndGlyphs">Genes bound by Oct1</text>
<line x1="447.30" y1="524.20" x2="447.30" y2="585.00" stroke="#000" stroke-width="1.1"/>
<line x1="446.80" y1="584.80" x2="506.60" y2="584.80" stroke="#000" stroke-width="1.5"/>
<line x1="444.30" y1="581.80" x2="447.30" y2="581.80" stroke="#000" stroke-width="0.9"/>
<text x="443.60" y="584.20" font-size="6.7" text-anchor="end" fill="#222" stroke="#222" stroke-width="0.22">0</text>
<line x1="444.30" y1="568.06" x2="447.30" y2="568.06" stroke="#000" stroke-width="0.9"/>
<text x="443.60" y="570.46" font-size="6.7" text-anchor="end" fill="#222" stroke="#222" stroke-width="0.22">3</text>
<line x1="444.30" y1="554.32" x2="447.30" y2="554.32" stroke="#000" stroke-width="0.9"/>
<text x="443.60" y="556.72" font-size="6.7" text-anchor="end" fill="#222" stroke="#222" stroke-width="0.22">6</text>
<line x1="444.30" y1="540.58" x2="447.30" y2="540.58" stroke="#000" stroke-width="0.9"/>
<text x="443.60" y="542.98" font-size="6.7" text-anchor="end" fill="#222" stroke="#222" stroke-width="0.22">9</text>
<line x1="444.30" y1="526.84" x2="447.30" y2="526.84" stroke="#000" stroke-width="0.9"/>
<text x="443.60" y="529.24" font-size="6.7" text-anchor="end" fill="#222" stroke="#222" stroke-width="0.22">12</text>
<text transform="translate(427.80,552.70) rotate(-90)" font-size="8.3" text-anchor="middle" fill="#222" stroke="#222" stroke-width="0.22" textLength="51.2" lengthAdjust="spacingAndGlyphs">log2(RPKM + 1)</text>
<polygon points="479.20,581.80 477.59,581.22 473.92,580.65 472.13,580.07 469.21,579.50 468.60,578.92 467.81,578.35 467.22,577.77 467.17,577.20 467.07,576.62 466.95,576.05 466.84,575.47 466.80,574.90 466.82,574.32 466.87,573.75 466.94,573.17 467.01,572.60 467.07,572.02 467.10,571.45 467.11,570.87 467.14,570.30 467.18,569.72 467.24,569.15 467.31,568.57 467.39,568.00 467.46,567.42 467.52,566.85 467.57,566.27 467.59,565.70 467.60,565.12 467.57,564.55 467.52,563.97 467.45,563.40 467.37,562.82 467.30,562.25 467.24,561.67 467.21,561.10 467.20,560.52 467.14,559.95 467.03,559.37 466.89,558.80 466.74,558.22 466.60,557.65 466.48,557.07 466.41,556.50 466.39,555.92 466.31,555.35 466.17,554.77 465.98,554.20 465.80,553.62 465.64,553.05 465.53,552.47 465.50,551.90 465.47,551.32 465.41,550.75 465.34,550.17 465.25,549.60 465.17,549.02 465.10,548.45 465.06,547.87 465.05,547.30 465.04,546.72 465.03,546.15 465.01,545.57 464.98,545.00 464.96,544.42 464.93,543.85 464.90,543.27 464.87,542.70 464.85,542.12 464.83,541.55 464.82,540.97 464.82,540.40 464.82,539.82 464.81,539.25 464.81,538.67 464.80,538.10 464.79,537.52 464.78,536.95 464.77,536.37 464.76,535.80 464.75,535.22 464.74,534.65 464.73,534.07 464.72,533.50 464.71,532.92 464.70,532.35 464.69,531.77 464.68,531.20 464.68,530.62 464.68,530.05 464.52,530.05 464.52,530.62 464.52,531.20 464.51,531.77 464.50,532.35 464.49,532.92 464.48,533.50 464.47,534.07 464.46,534.65 464.45,535.22 464.44,535.80 464.43,536.37 464.42,536.95 464.41,537.52 464.40,538.10 464.39,538.67 464.39,539.25 464.38,539.82 464.38,540.40 464.38,540.97 464.37,541.55 464.35,542.12 464.33,542.70 464.30,543.27 464.27,543.85 464.24,544.42 464.22,545.00 464.19,545.57 464.17,546.15 464.16,546.72 464.15,547.30 464.14,547.87 464.10,548.45 464.03,549.02 463.95,549.60 463.86,550.17 463.79,550.75 463.73,551.32 463.70,551.90 463.67,552.47 463.56,553.05 463.40,553.62 463.22,554.20 463.03,554.77 462.89,555.35 462.81,555.92 462.79,556.50 462.72,557.07 462.60,557.65 462.46,558.22 462.31,558.80 462.17,559.37 462.06,559.95 462.00,560.52 461.99,561.10 461.96,561.67 461.90,562.25 461.83,562.82 461.75,563.40 461.68,563.97 461.63,564.55 461.60,565.12 461.61,565.70 461.63,566.27 461.68,566.85 461.74,567.42 461.81,568.00 461.89,568.57 461.96,569.15 462.02,569.72 462.06,570.30 462.09,570.87 462.10,571.45 462.13,572.02 462.19,572.60 462.26,573.17 462.33,573.75 462.38,574.32 462.40,574.90 462.36,575.47 462.25,576.05 462.13,576.62 462.03,577.20 461.98,577.77 461.39,578.35 460.60,578.92 459.99,579.50 457.07,580.07 455.28,580.65 451.61,581.22 450.00,581.80" fill="#E3705F" stroke="#111" stroke-width="0.6" stroke-linejoin="round"/>
<line x1="464.60" y1="581.80" x2="464.60" y2="552.03" stroke="#222" stroke-width="0.45"/>
<rect x="463.10" y="565.31" width="3.0" height="12.37" fill="none" stroke="#222" stroke-width="0.45"/>
<circle cx="464.6" cy="577.68" r="0.55" fill="#222"/>
<polygon points="502.00,581.80 502.16,581.20 502.30,580.61 501.91,580.01 501.35,579.42 501.17,578.82 500.94,578.23 500.68,577.63 500.61,577.04 500.71,576.44 500.86,575.85 500.98,575.25 501.02,574.66 501.18,574.06 501.44,573.46 501.71,572.87 501.92,572.27 502.00,571.68 502.09,571.08 502.29,570.49 502.56,569.89 502.87,569.30 503.17,568.70 503.42,568.11 503.57,567.51 503.61,566.91 503.66,566.32 503.76,565.72 503.89,565.13 504.02,564.53 504.15,563.94 504.25,563.34 504.30,562.75 504.28,562.15 504.19,561.56 504.05,560.96 503.88,560.37 503.70,559.77 503.55,559.17 503.44,558.58 503.40,557.98 503.32,557.39 503.10,556.79 502.79,556.20 502.45,555.60 502.11,555.01 501.82,554.41 501.64,553.82 501.59,553.22 501.47,552.63 501.23,552.03 500.93,551.43 500.60,550.84 500.29,550.24 500.05,549.65 499.91,549.05 499.89,548.46 499.85,547.86 499.79,547.27 499.71,546.67 499.61,546.08 499.52,545.48 499.42,544.89 499.34,544.29 499.28,543.69 499.25,543.10 499.25,542.50 499.24,541.91 499.22,541.31 499.20,540.72 499.17,540.12 499.14,539.53 499.11,538.93 499.08,538.34 499.06,537.74 499.04,537.14 499.02,536.55 499.02,535.95 499.02,535.36 499.01,534.76 499.00,534.17 498.99,533.57 498.97,532.98 498.96,532.38 498.94,531.79 498.93,531.19 498.91,530.60 498.90,530.00 498.89,529.40 498.88,528.81 498.88,528.21 498.72,528.21 498.72,528.81 498.71,529.40 498.70,530.00 498.69,530.60 498.67,531.19 498.66,531.79 498.64,532.38 498.63,532.98 498.61,533.57 498.60,534.17 498.59,534.76 498.58,535.36 498.58,535.95 498.58,536.55 498.56,537.14 498.54,537.74 498.52,538.34 498.49,538.93 498.46,539.53 498.43,540.12 498.40,540.72 498.38,541.31 498.36,541.91 498.35,542.50 498.35,543.10 498.32,543.69 498.26,544.29 498.18,544.89 498.08,545.48 497.99,546.08 497.89,546.67 497.81,547.27 497.75,547.86 497.71,548.46 497.69,549.05 497.55,549.65 497.31,550.24 497.00,550.84 496.67,551.43 496.37,552.03 496.13,552.63 496.01,553.22 495.96,553.82 495.78,554.41 495.49,555.01 495.15,555.60 494.81,556.20 494.50,556.79 494.28,557.39 494.20,557.98 494.16,558.58 494.05,559.17 493.90,559.77 493.72,560.37 493.55,560.96 493.41,561.56 493.32,562.15 493.30,562.75 493.35,563.34 493.45,563.94 493.58,564.53 493.71,565.13 493.84,565.72 493.94,566.32 493.99,566.91 494.03,567.51 494.18,568.11 494.43,568.70 494.73,569.30 495.04,569.89 495.31,570.49 495.51,571.08 495.60,571.68 495.68,572.27 495.89,572.87 496.16,573.46 496.42,574.06 496.58,574.66 496.62,575.25 496.74,575.85 496.89,576.44 496.99,577.04 496.92,577.63 496.66,578.23 496.43,578.82 496.25,579.42 495.69,580.01 495.30,580.61 495.44,581.20 495.60,581.80" fill="#52B8BE" stroke="#111" stroke-width="0.6" stroke-linejoin="round"/>
<line x1="498.80" y1="579.05" x2="498.80" y2="547.45" stroke="#222" stroke-width="0.45"/>
<rect x="497.60" y="558.90" width="2.4" height="11.45" fill="none" stroke="#222" stroke-width="0.45"/>
<circle cx="498.8" cy="563.94" r="0.55" fill="#222"/>
<line x1="464.30" y1="524.20" x2="499.10" y2="524.20" stroke="#111" stroke-width="1.0"/>
<text x="481.20" y="512.90" font-size="6.2" text-anchor="middle" fill="#111" stroke="#111" stroke-width="0.22" textLength="9.50" lengthAdjust="spacingAndGlyphs">****</text>
<text x="467" y="519.6" font-size="6.0" fill="#222" textLength="28.8" lengthAdjust="spacingAndGlyphs"><tspan font-style="italic">P</tspan> &lt; 2.2e-16</text>
<rect x="441.5" y="589.6" width="3.6" height="3.4" fill="#E3705F" stroke="#444" stroke-width="0.4"/>
<rect x="441.5" y="596.9" width="3.6" height="3.4" fill="#4EB5BB" stroke="#444" stroke-width="0.4"/>
<text x="448.00" y="593.10" font-size="5.9" text-anchor="start" fill="#222" stroke="#222" stroke-width="0.22" textLength="65.10" lengthAdjust="spacingAndGlyphs">Genes not bound by Oct2</text>
<text x="448.00" y="600.50" font-size="5.9" text-anchor="start" fill="#222" stroke="#222" stroke-width="0.22" textLength="56.40" lengthAdjust="spacingAndGlyphs">Genes bound by Oct2</text>
<rect x="0.5" y="0.5" width="519" height="642" fill="none" stroke="#000" stroke-width="1.2"/>
</svg>
</body></html>
